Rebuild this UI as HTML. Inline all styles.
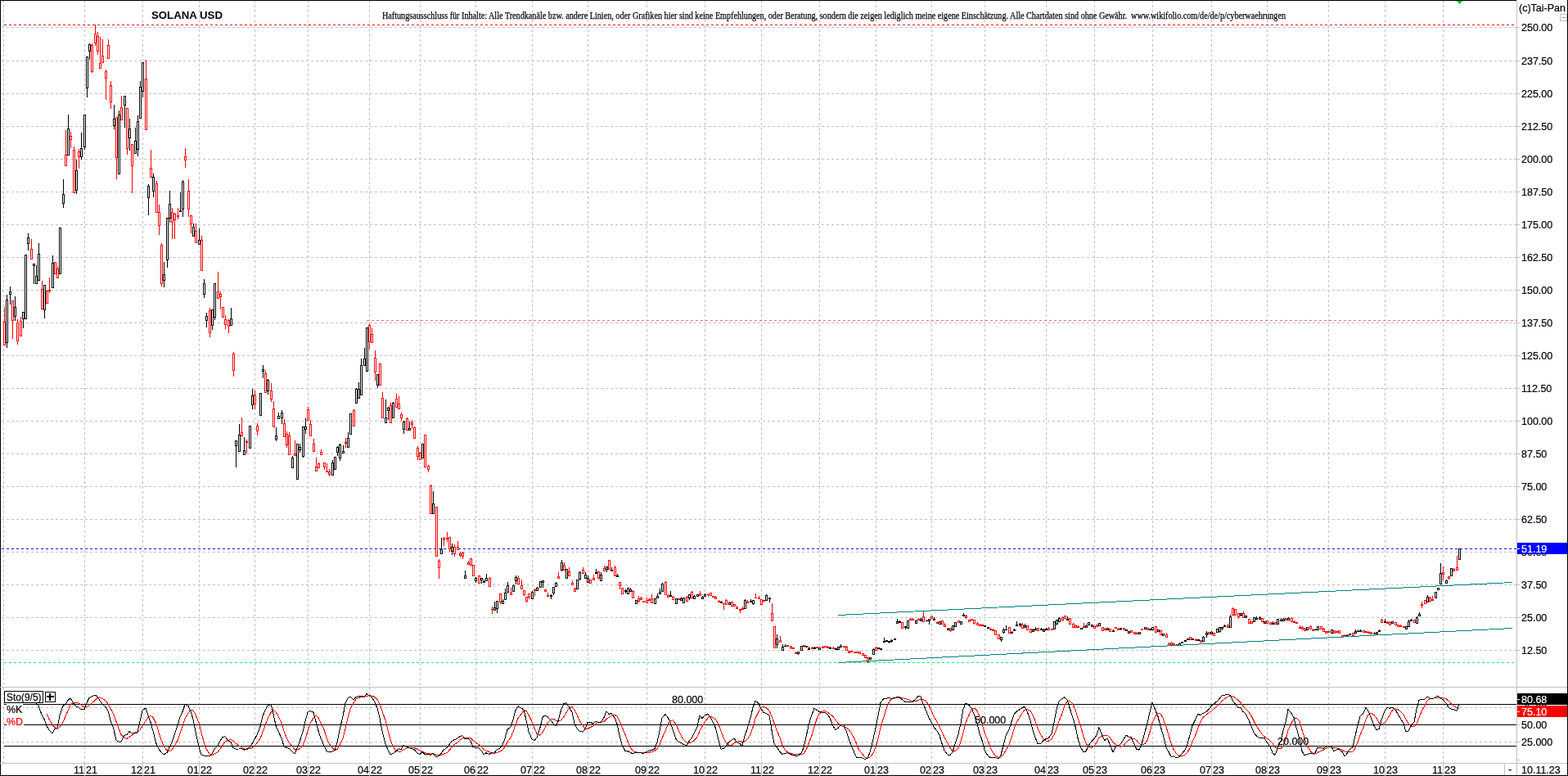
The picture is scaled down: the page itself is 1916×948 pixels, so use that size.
<!DOCTYPE html><html><head><meta charset="utf-8"><title>SOLANA USD</title><style>
html,body{margin:0;padding:0;background:#fff;}body{width:1916px;height:948px;overflow:hidden;position:relative;}
svg{position:absolute;left:0;top:0;display:block;}
text{font-family:"Liberation Sans",Arial,sans-serif;font-size:12.5px;fill:#000;stroke:#000;stroke-width:0.2px;}
.w{fill:#fff;stroke:#fff;}.r{fill:#f00;stroke:#f00;}
.s{font-family:"Liberation Serif","Times New Roman",serif;}
</style></head><body>
<svg width="1916" height="948" viewBox="0 0 1916 948">
<g shape-rendering="crispEdges">
<line x1="2" y1="33.5" x2="1853" y2="33.5" stroke="#c0c0c0" stroke-dasharray="3 3"/>
<line x1="2" y1="74.5" x2="1853" y2="74.5" stroke="#c0c0c0" stroke-dasharray="3 3"/>
<line x1="2" y1="114.5" x2="1853" y2="114.5" stroke="#c0c0c0" stroke-dasharray="3 3"/>
<line x1="2" y1="154.5" x2="1853" y2="154.5" stroke="#c0c0c0" stroke-dasharray="3 3"/>
<line x1="2" y1="194.5" x2="1853" y2="194.5" stroke="#c0c0c0" stroke-dasharray="3 3"/>
<line x1="2" y1="234.5" x2="1853" y2="234.5" stroke="#c0c0c0" stroke-dasharray="3 3"/>
<line x1="2" y1="274.5" x2="1853" y2="274.5" stroke="#c0c0c0" stroke-dasharray="3 3"/>
<line x1="2" y1="314.5" x2="1853" y2="314.5" stroke="#c0c0c0" stroke-dasharray="3 3"/>
<line x1="2" y1="354.5" x2="1853" y2="354.5" stroke="#c0c0c0" stroke-dasharray="3 3"/>
<line x1="2" y1="394.5" x2="1853" y2="394.5" stroke="#c0c0c0" stroke-dasharray="3 3"/>
<line x1="2" y1="434.5" x2="1853" y2="434.5" stroke="#c0c0c0" stroke-dasharray="3 3"/>
<line x1="2" y1="474.5" x2="1853" y2="474.5" stroke="#c0c0c0" stroke-dasharray="3 3"/>
<line x1="2" y1="514.5" x2="1853" y2="514.5" stroke="#c0c0c0" stroke-dasharray="3 3"/>
<line x1="2" y1="554.5" x2="1853" y2="554.5" stroke="#c0c0c0" stroke-dasharray="3 3"/>
<line x1="2" y1="594.5" x2="1853" y2="594.5" stroke="#c0c0c0" stroke-dasharray="3 3"/>
<line x1="2" y1="634.5" x2="1853" y2="634.5" stroke="#c0c0c0" stroke-dasharray="3 3"/>
<line x1="2" y1="674.5" x2="1853" y2="674.5" stroke="#c0c0c0" stroke-dasharray="3 3"/>
<line x1="2" y1="714.5" x2="1853" y2="714.5" stroke="#c0c0c0" stroke-dasharray="3 3"/>
<line x1="2" y1="754.5" x2="1853" y2="754.5" stroke="#c0c0c0" stroke-dasharray="3 3"/>
<line x1="2" y1="794.5" x2="1853" y2="794.5" stroke="#c0c0c0" stroke-dasharray="3 3"/>
<line x1="2" y1="864.5" x2="1853" y2="864.5" stroke="#c0c0c0" stroke-dasharray="3 3"/>
<line x1="2" y1="906.5" x2="1853" y2="906.5" stroke="#c0c0c0" stroke-dasharray="3 3"/>
<line x1="4.5" y1="0" x2="4.5" y2="932" stroke="#c0c0c0" stroke-dasharray="3 3"/>
<line x1="103.5" y1="0" x2="103.5" y2="932" stroke="#c0c0c0" stroke-dasharray="3 3"/>
<line x1="174.5" y1="0" x2="174.5" y2="932" stroke="#c0c0c0" stroke-dasharray="3 3"/>
<line x1="243.5" y1="0" x2="243.5" y2="932" stroke="#c0c0c0" stroke-dasharray="3 3"/>
<line x1="311.5" y1="0" x2="311.5" y2="932" stroke="#c0c0c0" stroke-dasharray="3 3"/>
<line x1="376.5" y1="0" x2="376.5" y2="932" stroke="#c0c0c0" stroke-dasharray="3 3"/>
<line x1="451.5" y1="0" x2="451.5" y2="932" stroke="#c0c0c0" stroke-dasharray="3 3"/>
<line x1="513.5" y1="0" x2="513.5" y2="932" stroke="#c0c0c0" stroke-dasharray="3 3"/>
<line x1="581.5" y1="0" x2="581.5" y2="932" stroke="#c0c0c0" stroke-dasharray="3 3"/>
<line x1="650.5" y1="0" x2="650.5" y2="932" stroke="#c0c0c0" stroke-dasharray="3 3"/>
<line x1="718.5" y1="0" x2="718.5" y2="932" stroke="#c0c0c0" stroke-dasharray="3 3"/>
<line x1="790.5" y1="0" x2="790.5" y2="932" stroke="#c0c0c0" stroke-dasharray="3 3"/>
<line x1="861.5" y1="0" x2="861.5" y2="932" stroke="#c0c0c0" stroke-dasharray="3 3"/>
<line x1="930.5" y1="0" x2="930.5" y2="932" stroke="#c0c0c0" stroke-dasharray="3 3"/>
<line x1="1001.5" y1="0" x2="1001.5" y2="932" stroke="#c0c0c0" stroke-dasharray="3 3"/>
<line x1="1070.5" y1="0" x2="1070.5" y2="932" stroke="#c0c0c0" stroke-dasharray="3 3"/>
<line x1="1138.5" y1="0" x2="1138.5" y2="932" stroke="#c0c0c0" stroke-dasharray="3 3"/>
<line x1="1203.5" y1="0" x2="1203.5" y2="932" stroke="#c0c0c0" stroke-dasharray="3 3"/>
<line x1="1278.5" y1="0" x2="1278.5" y2="932" stroke="#c0c0c0" stroke-dasharray="3 3"/>
<line x1="1337.5" y1="0" x2="1337.5" y2="932" stroke="#c0c0c0" stroke-dasharray="3 3"/>
<line x1="1408.5" y1="0" x2="1408.5" y2="932" stroke="#c0c0c0" stroke-dasharray="3 3"/>
<line x1="1480.5" y1="0" x2="1480.5" y2="932" stroke="#c0c0c0" stroke-dasharray="3 3"/>
<line x1="1548.5" y1="0" x2="1548.5" y2="932" stroke="#c0c0c0" stroke-dasharray="3 3"/>
<line x1="1623.5" y1="0" x2="1623.5" y2="932" stroke="#c0c0c0" stroke-dasharray="3 3"/>
<line x1="1692.5" y1="0" x2="1692.5" y2="932" stroke="#c0c0c0" stroke-dasharray="3 3"/>
<line x1="1763.5" y1="0" x2="1763.5" y2="932" stroke="#c0c0c0" stroke-dasharray="3 3"/>
<line x1="5" y1="30.5" x2="1853" y2="30.5" stroke="#ff0000" stroke-dasharray="3 3"/>
<line x1="448" y1="391.5" x2="1853" y2="391.5" stroke="#ff7070" stroke-dasharray="3 3"/>
<line x1="2" y1="670.5" x2="1853" y2="670.5" stroke="#0000ff" stroke-dasharray="3 3"/>
<line x1="5" y1="809.5" x2="1853" y2="809.5" stroke="#00ee77" stroke-dasharray="3 3"/>
<rect x="5" y="375" width="1" height="18" fill="#ff0000"/>
<rect x="4" y="393" width="3" height="29" fill="#ff0000"/>
<rect x="5" y="394" width="1" height="27" fill="#fff"/>
<rect x="8" y="360" width="1" height="6" fill="#000000"/>
<rect x="8" y="419" width="1" height="6" fill="#000000"/>
<rect x="7" y="366" width="3" height="53" fill="#000000"/>
<rect x="8" y="367" width="1" height="51" fill="#fff"/>
<rect x="12" y="350" width="1" height="6" fill="#000000"/>
<rect x="12" y="360" width="1" height="12" fill="#000000"/>
<rect x="11" y="356" width="3" height="4" fill="#000000"/>
<rect x="12" y="357" width="1" height="2" fill="#fff"/>
<rect x="15" y="392" width="1" height="22" fill="#ff0000"/>
<rect x="14" y="367" width="3" height="25" fill="#ff0000"/>
<rect x="15" y="368" width="1" height="23" fill="#fff"/>
<rect x="18" y="362" width="1" height="13" fill="#000000"/>
<rect x="18" y="387" width="1" height="5" fill="#000000"/>
<rect x="17" y="375" width="3" height="12" fill="#000000"/>
<rect x="18" y="376" width="1" height="10" fill="#fff"/>
<rect x="21" y="390" width="1" height="4" fill="#ff0000"/>
<rect x="21" y="417" width="1" height="4" fill="#ff0000"/>
<rect x="20" y="394" width="3" height="23" fill="#ff0000"/>
<rect x="21" y="395" width="1" height="21" fill="#fff"/>
<rect x="25" y="387" width="1" height="5" fill="#ff0000"/>
<rect x="24" y="392" width="3" height="19" fill="#ff0000"/>
<rect x="25" y="393" width="1" height="17" fill="#fff"/>
<rect x="28" y="390" width="1" height="11" fill="#000000"/>
<rect x="27" y="381" width="3" height="9" fill="#000000"/>
<rect x="28" y="382" width="1" height="7" fill="#fff"/>
<rect x="30" y="311" width="3" height="79" fill="#000000"/>
<rect x="31" y="312" width="1" height="77" fill="#fff"/>
<rect x="34" y="285" width="1" height="5" fill="#000000"/>
<rect x="34" y="298" width="1" height="8" fill="#000000"/>
<rect x="33" y="290" width="3" height="8" fill="#000000"/>
<rect x="34" y="291" width="1" height="6" fill="#fff"/>
<rect x="38" y="292" width="1" height="12" fill="#ff0000"/>
<rect x="37" y="304" width="3" height="13" fill="#ff0000"/>
<rect x="38" y="305" width="1" height="11" fill="#fff"/>
<rect x="41" y="325" width="1" height="22" fill="#000000"/>
<rect x="40" y="322" width="3" height="3" fill="#000000"/>
<rect x="41" y="323" width="1" height="1" fill="#fff"/>
<rect x="44" y="324" width="1" height="13" fill="#000000"/>
<rect x="43" y="337" width="3" height="10" fill="#000000"/>
<rect x="44" y="338" width="1" height="8" fill="#fff"/>
<rect x="47" y="297" width="1" height="13" fill="#000000"/>
<rect x="46" y="310" width="3" height="33" fill="#000000"/>
<rect x="47" y="311" width="1" height="31" fill="#fff"/>
<rect x="51" y="343" width="1" height="10" fill="#ff0000"/>
<rect x="50" y="353" width="3" height="25" fill="#ff0000"/>
<rect x="51" y="354" width="1" height="23" fill="#fff"/>
<rect x="54" y="379" width="1" height="10" fill="#000000"/>
<rect x="53" y="348" width="3" height="31" fill="#000000"/>
<rect x="54" y="349" width="1" height="29" fill="#fff"/>
<rect x="56" y="355" width="3" height="16" fill="#ff0000"/>
<rect x="57" y="356" width="1" height="14" fill="#fff"/>
<rect x="60" y="339" width="1" height="15" fill="#ff0000"/>
<rect x="60" y="356" width="1" height="2" fill="#ff0000"/>
<rect x="59" y="354" width="3" height="2" fill="#ff0000"/>
<rect x="64" y="312" width="1" height="9" fill="#000000"/>
<rect x="63" y="321" width="3" height="31" fill="#000000"/>
<rect x="64" y="322" width="1" height="29" fill="#fff"/>
<rect x="66" y="320" width="3" height="15" fill="#ff0000"/>
<rect x="67" y="321" width="1" height="13" fill="#fff"/>
<rect x="70" y="325" width="1" height="3" fill="#ff0000"/>
<rect x="69" y="328" width="3" height="12" fill="#ff0000"/>
<rect x="70" y="329" width="1" height="10" fill="#fff"/>
<rect x="72" y="278" width="3" height="57" fill="#000000"/>
<rect x="73" y="279" width="1" height="55" fill="#fff"/>
<rect x="77" y="219" width="1" height="18" fill="#000000"/>
<rect x="77" y="249" width="1" height="5" fill="#000000"/>
<rect x="76" y="237" width="3" height="12" fill="#000000"/>
<rect x="77" y="238" width="1" height="10" fill="#fff"/>
<rect x="80" y="159" width="1" height="30" fill="#ff0000"/>
<rect x="79" y="189" width="3" height="14" fill="#ff0000"/>
<rect x="80" y="190" width="1" height="12" fill="#fff"/>
<rect x="83" y="140" width="1" height="17" fill="#000000"/>
<rect x="82" y="157" width="3" height="33" fill="#000000"/>
<rect x="83" y="158" width="1" height="31" fill="#fff"/>
<rect x="86" y="161" width="1" height="5" fill="#ff0000"/>
<rect x="86" y="171" width="1" height="10" fill="#ff0000"/>
<rect x="85" y="166" width="3" height="5" fill="#ff0000"/>
<rect x="86" y="167" width="1" height="3" fill="#fff"/>
<rect x="90" y="179" width="1" height="4" fill="#ff0000"/>
<rect x="89" y="183" width="3" height="53" fill="#ff0000"/>
<rect x="90" y="184" width="1" height="51" fill="#fff"/>
<rect x="93" y="195" width="1" height="13" fill="#000000"/>
<rect x="93" y="233" width="1" height="4" fill="#000000"/>
<rect x="92" y="208" width="3" height="25" fill="#000000"/>
<rect x="93" y="209" width="1" height="23" fill="#fff"/>
<rect x="96" y="182" width="1" height="3" fill="#ff0000"/>
<rect x="96" y="192" width="1" height="14" fill="#ff0000"/>
<rect x="95" y="185" width="3" height="7" fill="#ff0000"/>
<rect x="96" y="186" width="1" height="5" fill="#fff"/>
<rect x="99" y="162" width="1" height="19" fill="#000000"/>
<rect x="99" y="192" width="1" height="3" fill="#000000"/>
<rect x="98" y="181" width="3" height="11" fill="#000000"/>
<rect x="99" y="182" width="1" height="9" fill="#fff"/>
<rect x="103" y="180" width="1" height="3" fill="#000000"/>
<rect x="102" y="140" width="3" height="40" fill="#000000"/>
<rect x="103" y="141" width="1" height="38" fill="#fff"/>
<rect x="106" y="108" width="1" height="11" fill="#000000"/>
<rect x="105" y="69" width="3" height="39" fill="#000000"/>
<rect x="106" y="70" width="1" height="37" fill="#fff"/>
<rect x="109" y="53" width="1" height="1" fill="#000000"/>
<rect x="109" y="63" width="1" height="10" fill="#000000"/>
<rect x="108" y="54" width="3" height="9" fill="#000000"/>
<rect x="109" y="55" width="1" height="7" fill="#fff"/>
<rect x="112" y="53" width="1" height="2" fill="#ff0000"/>
<rect x="112" y="88" width="1" height="1" fill="#ff0000"/>
<rect x="111" y="55" width="3" height="33" fill="#ff0000"/>
<rect x="112" y="56" width="1" height="31" fill="#fff"/>
<rect x="116" y="30" width="1" height="11" fill="#ff0000"/>
<rect x="116" y="53" width="1" height="3" fill="#ff0000"/>
<rect x="115" y="41" width="3" height="12" fill="#ff0000"/>
<rect x="116" y="42" width="1" height="10" fill="#fff"/>
<rect x="119" y="39" width="1" height="5" fill="#ff0000"/>
<rect x="119" y="63" width="1" height="4" fill="#ff0000"/>
<rect x="118" y="44" width="3" height="19" fill="#ff0000"/>
<rect x="119" y="45" width="1" height="17" fill="#fff"/>
<rect x="122" y="45" width="1" height="32" fill="#ff0000"/>
<rect x="121" y="77" width="3" height="7" fill="#ff0000"/>
<rect x="122" y="78" width="1" height="5" fill="#fff"/>
<rect x="125" y="48" width="1" height="20" fill="#ff0000"/>
<rect x="124" y="68" width="3" height="9" fill="#ff0000"/>
<rect x="125" y="69" width="1" height="7" fill="#fff"/>
<rect x="129" y="85" width="1" height="2" fill="#ff0000"/>
<rect x="129" y="96" width="1" height="26" fill="#ff0000"/>
<rect x="128" y="87" width="3" height="9" fill="#ff0000"/>
<rect x="129" y="88" width="1" height="7" fill="#fff"/>
<rect x="132" y="48" width="1" height="7" fill="#ff0000"/>
<rect x="131" y="55" width="3" height="17" fill="#ff0000"/>
<rect x="132" y="56" width="1" height="15" fill="#fff"/>
<rect x="135" y="99" width="1" height="5" fill="#ff0000"/>
<rect x="135" y="125" width="1" height="8" fill="#ff0000"/>
<rect x="134" y="104" width="3" height="21" fill="#ff0000"/>
<rect x="135" y="105" width="1" height="19" fill="#fff"/>
<rect x="139" y="128" width="1" height="17" fill="#000000"/>
<rect x="139" y="154" width="1" height="4" fill="#000000"/>
<rect x="138" y="145" width="3" height="9" fill="#000000"/>
<rect x="139" y="146" width="1" height="7" fill="#fff"/>
<rect x="142" y="193" width="1" height="26" fill="#ff0000"/>
<rect x="141" y="143" width="3" height="50" fill="#ff0000"/>
<rect x="142" y="144" width="1" height="48" fill="#fff"/>
<rect x="145" y="135" width="1" height="5" fill="#000000"/>
<rect x="144" y="140" width="3" height="73" fill="#000000"/>
<rect x="145" y="141" width="1" height="71" fill="#fff"/>
<rect x="148" y="117" width="1" height="14" fill="#ff0000"/>
<rect x="147" y="131" width="3" height="16" fill="#ff0000"/>
<rect x="148" y="132" width="1" height="14" fill="#fff"/>
<rect x="152" y="129" width="1" height="27" fill="#000000"/>
<rect x="151" y="117" width="3" height="12" fill="#000000"/>
<rect x="152" y="118" width="1" height="10" fill="#fff"/>
<rect x="155" y="182" width="1" height="7" fill="#ff0000"/>
<rect x="154" y="132" width="3" height="50" fill="#ff0000"/>
<rect x="155" y="133" width="1" height="48" fill="#fff"/>
<rect x="158" y="145" width="1" height="12" fill="#000000"/>
<rect x="158" y="169" width="1" height="15" fill="#000000"/>
<rect x="157" y="157" width="3" height="12" fill="#000000"/>
<rect x="158" y="158" width="1" height="10" fill="#fff"/>
<rect x="161" y="203" width="1" height="33" fill="#ff0000"/>
<rect x="160" y="176" width="3" height="27" fill="#ff0000"/>
<rect x="161" y="177" width="1" height="25" fill="#fff"/>
<rect x="165" y="156" width="1" height="16" fill="#000000"/>
<rect x="164" y="172" width="3" height="16" fill="#000000"/>
<rect x="165" y="173" width="1" height="14" fill="#fff"/>
<rect x="168" y="141" width="1" height="7" fill="#000000"/>
<rect x="168" y="183" width="1" height="8" fill="#000000"/>
<rect x="167" y="148" width="3" height="35" fill="#000000"/>
<rect x="168" y="149" width="1" height="33" fill="#fff"/>
<rect x="171" y="99" width="1" height="7" fill="#000000"/>
<rect x="170" y="106" width="3" height="39" fill="#000000"/>
<rect x="171" y="107" width="1" height="37" fill="#fff"/>
<rect x="174" y="112" width="1" height="7" fill="#000000"/>
<rect x="173" y="76" width="3" height="36" fill="#000000"/>
<rect x="174" y="77" width="1" height="34" fill="#fff"/>
<rect x="178" y="73" width="1" height="23" fill="#ff0000"/>
<rect x="177" y="96" width="3" height="63" fill="#ff0000"/>
<rect x="178" y="97" width="1" height="61" fill="#fff"/>
<rect x="181" y="225" width="1" height="2" fill="#000000"/>
<rect x="181" y="242" width="1" height="21" fill="#000000"/>
<rect x="180" y="227" width="3" height="15" fill="#000000"/>
<rect x="181" y="228" width="1" height="13" fill="#fff"/>
<rect x="184" y="183" width="1" height="22" fill="#ff0000"/>
<rect x="183" y="205" width="3" height="12" fill="#ff0000"/>
<rect x="184" y="206" width="1" height="10" fill="#fff"/>
<rect x="187" y="212" width="1" height="4" fill="#000000"/>
<rect x="187" y="234" width="1" height="7" fill="#000000"/>
<rect x="186" y="216" width="3" height="18" fill="#000000"/>
<rect x="187" y="217" width="1" height="16" fill="#fff"/>
<rect x="191" y="221" width="1" height="3" fill="#ff0000"/>
<rect x="190" y="224" width="3" height="36" fill="#ff0000"/>
<rect x="191" y="225" width="1" height="34" fill="#fff"/>
<rect x="194" y="250" width="1" height="9" fill="#ff0000"/>
<rect x="194" y="276" width="1" height="11" fill="#ff0000"/>
<rect x="193" y="259" width="3" height="17" fill="#ff0000"/>
<rect x="194" y="260" width="1" height="15" fill="#fff"/>
<rect x="197" y="297" width="1" height="2" fill="#ff0000"/>
<rect x="197" y="347" width="1" height="3" fill="#ff0000"/>
<rect x="196" y="299" width="3" height="48" fill="#ff0000"/>
<rect x="197" y="300" width="1" height="46" fill="#fff"/>
<rect x="200" y="320" width="1" height="15" fill="#000000"/>
<rect x="200" y="343" width="1" height="8" fill="#000000"/>
<rect x="199" y="335" width="3" height="8" fill="#000000"/>
<rect x="200" y="336" width="1" height="6" fill="#fff"/>
<rect x="204" y="318" width="1" height="9" fill="#000000"/>
<rect x="203" y="266" width="3" height="52" fill="#000000"/>
<rect x="204" y="267" width="1" height="50" fill="#fff"/>
<rect x="207" y="233" width="1" height="16" fill="#000000"/>
<rect x="207" y="267" width="1" height="5" fill="#000000"/>
<rect x="206" y="249" width="3" height="18" fill="#000000"/>
<rect x="207" y="250" width="1" height="16" fill="#fff"/>
<rect x="210" y="254" width="1" height="5" fill="#ff0000"/>
<rect x="210" y="272" width="1" height="20" fill="#ff0000"/>
<rect x="209" y="259" width="3" height="13" fill="#ff0000"/>
<rect x="210" y="260" width="1" height="11" fill="#fff"/>
<rect x="213" y="260" width="1" height="1" fill="#ff0000"/>
<rect x="213" y="269" width="1" height="23" fill="#ff0000"/>
<rect x="212" y="261" width="3" height="8" fill="#ff0000"/>
<rect x="213" y="262" width="1" height="6" fill="#fff"/>
<rect x="217" y="254" width="1" height="9" fill="#ff0000"/>
<rect x="217" y="265" width="1" height="3" fill="#ff0000"/>
<rect x="216" y="263" width="3" height="2" fill="#ff0000"/>
<rect x="220" y="235" width="1" height="22" fill="#000000"/>
<rect x="219" y="257" width="3" height="2" fill="#000000"/>
<rect x="223" y="220" width="1" height="2" fill="#000000"/>
<rect x="223" y="256" width="1" height="9" fill="#000000"/>
<rect x="222" y="222" width="3" height="34" fill="#000000"/>
<rect x="223" y="223" width="1" height="32" fill="#fff"/>
<rect x="226" y="181" width="1" height="10" fill="#ff0000"/>
<rect x="226" y="196" width="1" height="9" fill="#ff0000"/>
<rect x="225" y="191" width="3" height="5" fill="#ff0000"/>
<rect x="226" y="192" width="1" height="3" fill="#fff"/>
<rect x="230" y="219" width="1" height="14" fill="#ff0000"/>
<rect x="230" y="256" width="1" height="9" fill="#ff0000"/>
<rect x="229" y="233" width="3" height="23" fill="#ff0000"/>
<rect x="230" y="234" width="1" height="21" fill="#fff"/>
<rect x="233" y="274" width="1" height="11" fill="#ff0000"/>
<rect x="232" y="263" width="3" height="11" fill="#ff0000"/>
<rect x="233" y="264" width="1" height="9" fill="#fff"/>
<rect x="236" y="273" width="1" height="4" fill="#000000"/>
<rect x="235" y="277" width="3" height="12" fill="#000000"/>
<rect x="236" y="278" width="1" height="10" fill="#fff"/>
<rect x="239" y="273" width="1" height="9" fill="#ff0000"/>
<rect x="238" y="282" width="3" height="15" fill="#ff0000"/>
<rect x="239" y="283" width="1" height="13" fill="#fff"/>
<rect x="243" y="279" width="1" height="14" fill="#000000"/>
<rect x="242" y="293" width="3" height="6" fill="#000000"/>
<rect x="243" y="294" width="1" height="4" fill="#fff"/>
<rect x="246" y="288" width="1" height="5" fill="#ff0000"/>
<rect x="245" y="293" width="3" height="38" fill="#ff0000"/>
<rect x="246" y="294" width="1" height="36" fill="#fff"/>
<rect x="249" y="341" width="1" height="5" fill="#000000"/>
<rect x="249" y="360" width="1" height="4" fill="#000000"/>
<rect x="248" y="346" width="3" height="14" fill="#000000"/>
<rect x="249" y="347" width="1" height="12" fill="#fff"/>
<rect x="252" y="382" width="1" height="4" fill="#000000"/>
<rect x="252" y="392" width="1" height="8" fill="#000000"/>
<rect x="251" y="386" width="3" height="6" fill="#000000"/>
<rect x="252" y="387" width="1" height="4" fill="#fff"/>
<rect x="256" y="376" width="1" height="3" fill="#ff0000"/>
<rect x="256" y="407" width="1" height="5" fill="#ff0000"/>
<rect x="255" y="379" width="3" height="28" fill="#ff0000"/>
<rect x="256" y="380" width="1" height="26" fill="#fff"/>
<rect x="259" y="398" width="1" height="5" fill="#000000"/>
<rect x="258" y="378" width="3" height="20" fill="#000000"/>
<rect x="259" y="379" width="1" height="18" fill="#fff"/>
<rect x="262" y="388" width="1" height="3" fill="#000000"/>
<rect x="261" y="346" width="3" height="42" fill="#000000"/>
<rect x="262" y="347" width="1" height="40" fill="#fff"/>
<rect x="266" y="332" width="1" height="24" fill="#ff0000"/>
<rect x="265" y="356" width="3" height="9" fill="#ff0000"/>
<rect x="266" y="357" width="1" height="7" fill="#fff"/>
<rect x="269" y="356" width="1" height="3" fill="#ff0000"/>
<rect x="269" y="363" width="1" height="15" fill="#ff0000"/>
<rect x="268" y="359" width="3" height="4" fill="#ff0000"/>
<rect x="269" y="360" width="1" height="2" fill="#fff"/>
<rect x="271" y="375" width="3" height="13" fill="#ff0000"/>
<rect x="272" y="376" width="1" height="11" fill="#fff"/>
<rect x="275" y="385" width="1" height="5" fill="#ff0000"/>
<rect x="275" y="397" width="1" height="5" fill="#ff0000"/>
<rect x="274" y="390" width="3" height="7" fill="#ff0000"/>
<rect x="275" y="391" width="1" height="5" fill="#fff"/>
<rect x="279" y="390" width="1" height="1" fill="#ff0000"/>
<rect x="279" y="399" width="1" height="8" fill="#ff0000"/>
<rect x="278" y="391" width="3" height="8" fill="#ff0000"/>
<rect x="279" y="392" width="1" height="6" fill="#fff"/>
<rect x="282" y="376" width="1" height="13" fill="#000000"/>
<rect x="281" y="389" width="3" height="9" fill="#000000"/>
<rect x="282" y="390" width="1" height="7" fill="#fff"/>
<rect x="285" y="430" width="1" height="2" fill="#ff0000"/>
<rect x="285" y="453" width="1" height="7" fill="#ff0000"/>
<rect x="284" y="432" width="3" height="21" fill="#ff0000"/>
<rect x="285" y="433" width="1" height="19" fill="#fff"/>
<rect x="288" y="545" width="1" height="26" fill="#000000"/>
<rect x="287" y="538" width="3" height="7" fill="#000000"/>
<rect x="288" y="539" width="1" height="5" fill="#fff"/>
<rect x="292" y="518" width="1" height="13" fill="#000000"/>
<rect x="291" y="531" width="3" height="21" fill="#000000"/>
<rect x="292" y="532" width="1" height="19" fill="#fff"/>
<rect x="295" y="510" width="1" height="18" fill="#ff0000"/>
<rect x="294" y="528" width="3" height="5" fill="#ff0000"/>
<rect x="295" y="529" width="1" height="3" fill="#fff"/>
<rect x="298" y="534" width="1" height="16" fill="#000000"/>
<rect x="297" y="550" width="3" height="6" fill="#000000"/>
<rect x="298" y="551" width="1" height="4" fill="#fff"/>
<rect x="301" y="537" width="1" height="2" fill="#ff0000"/>
<rect x="301" y="541" width="1" height="13" fill="#ff0000"/>
<rect x="300" y="539" width="3" height="2" fill="#ff0000"/>
<rect x="304" y="520" width="3" height="28" fill="#000000"/>
<rect x="305" y="521" width="1" height="26" fill="#fff"/>
<rect x="308" y="475" width="1" height="8" fill="#000000"/>
<rect x="308" y="495" width="1" height="5" fill="#000000"/>
<rect x="307" y="483" width="3" height="12" fill="#000000"/>
<rect x="308" y="484" width="1" height="10" fill="#fff"/>
<rect x="311" y="477" width="1" height="5" fill="#ff0000"/>
<rect x="311" y="494" width="1" height="6" fill="#ff0000"/>
<rect x="310" y="482" width="3" height="12" fill="#ff0000"/>
<rect x="311" y="483" width="1" height="10" fill="#fff"/>
<rect x="314" y="517" width="1" height="3" fill="#ff0000"/>
<rect x="314" y="527" width="1" height="5" fill="#ff0000"/>
<rect x="313" y="520" width="3" height="7" fill="#ff0000"/>
<rect x="314" y="521" width="1" height="5" fill="#fff"/>
<rect x="317" y="480" width="3" height="28" fill="#000000"/>
<rect x="318" y="481" width="1" height="26" fill="#fff"/>
<rect x="321" y="446" width="1" height="5" fill="#000000"/>
<rect x="321" y="454" width="1" height="8" fill="#000000"/>
<rect x="320" y="451" width="3" height="3" fill="#000000"/>
<rect x="321" y="452" width="1" height="1" fill="#fff"/>
<rect x="324" y="453" width="1" height="3" fill="#ff0000"/>
<rect x="323" y="456" width="3" height="24" fill="#ff0000"/>
<rect x="324" y="457" width="1" height="22" fill="#fff"/>
<rect x="327" y="463" width="1" height="1" fill="#000000"/>
<rect x="327" y="478" width="1" height="4" fill="#000000"/>
<rect x="326" y="464" width="3" height="14" fill="#000000"/>
<rect x="327" y="465" width="1" height="12" fill="#fff"/>
<rect x="331" y="468" width="1" height="9" fill="#ff0000"/>
<rect x="331" y="488" width="1" height="3" fill="#ff0000"/>
<rect x="330" y="477" width="3" height="11" fill="#ff0000"/>
<rect x="331" y="478" width="1" height="9" fill="#fff"/>
<rect x="334" y="490" width="1" height="9" fill="#ff0000"/>
<rect x="333" y="499" width="3" height="23" fill="#ff0000"/>
<rect x="334" y="500" width="1" height="21" fill="#fff"/>
<rect x="337" y="522" width="1" height="10" fill="#000000"/>
<rect x="337" y="537" width="1" height="2" fill="#000000"/>
<rect x="336" y="532" width="3" height="5" fill="#000000"/>
<rect x="337" y="533" width="1" height="3" fill="#fff"/>
<rect x="340" y="504" width="1" height="4" fill="#000000"/>
<rect x="339" y="508" width="3" height="4" fill="#000000"/>
<rect x="340" y="509" width="1" height="2" fill="#fff"/>
<rect x="344" y="501" width="1" height="3" fill="#000000"/>
<rect x="344" y="511" width="1" height="7" fill="#000000"/>
<rect x="343" y="504" width="3" height="7" fill="#000000"/>
<rect x="344" y="505" width="1" height="5" fill="#fff"/>
<rect x="347" y="512" width="1" height="5" fill="#ff0000"/>
<rect x="346" y="517" width="3" height="17" fill="#ff0000"/>
<rect x="347" y="518" width="1" height="15" fill="#fff"/>
<rect x="350" y="527" width="1" height="3" fill="#ff0000"/>
<rect x="350" y="544" width="1" height="3" fill="#ff0000"/>
<rect x="349" y="530" width="3" height="14" fill="#ff0000"/>
<rect x="350" y="531" width="1" height="12" fill="#fff"/>
<rect x="353" y="528" width="1" height="4" fill="#ff0000"/>
<rect x="352" y="532" width="3" height="24" fill="#ff0000"/>
<rect x="353" y="533" width="1" height="22" fill="#fff"/>
<rect x="357" y="557" width="1" height="2" fill="#000000"/>
<rect x="356" y="559" width="3" height="13" fill="#000000"/>
<rect x="357" y="560" width="1" height="11" fill="#fff"/>
<rect x="360" y="538" width="1" height="16" fill="#ff0000"/>
<rect x="359" y="554" width="3" height="3" fill="#ff0000"/>
<rect x="360" y="555" width="1" height="1" fill="#fff"/>
<rect x="362" y="542" width="3" height="44" fill="#000000"/>
<rect x="363" y="543" width="1" height="42" fill="#fff"/>
<rect x="366" y="542" width="1" height="4" fill="#000000"/>
<rect x="366" y="550" width="1" height="3" fill="#000000"/>
<rect x="365" y="546" width="3" height="4" fill="#000000"/>
<rect x="366" y="547" width="1" height="2" fill="#fff"/>
<rect x="370" y="558" width="1" height="1" fill="#000000"/>
<rect x="369" y="521" width="3" height="37" fill="#000000"/>
<rect x="370" y="522" width="1" height="35" fill="#fff"/>
<rect x="373" y="511" width="1" height="10" fill="#000000"/>
<rect x="373" y="525" width="1" height="5" fill="#000000"/>
<rect x="372" y="521" width="3" height="4" fill="#000000"/>
<rect x="373" y="522" width="1" height="2" fill="#fff"/>
<rect x="376" y="497" width="1" height="3" fill="#ff0000"/>
<rect x="375" y="500" width="3" height="14" fill="#ff0000"/>
<rect x="376" y="501" width="1" height="12" fill="#fff"/>
<rect x="379" y="513" width="1" height="5" fill="#ff0000"/>
<rect x="378" y="518" width="3" height="15" fill="#ff0000"/>
<rect x="379" y="519" width="1" height="13" fill="#fff"/>
<rect x="383" y="536" width="1" height="6" fill="#ff0000"/>
<rect x="382" y="542" width="3" height="10" fill="#ff0000"/>
<rect x="383" y="543" width="1" height="8" fill="#fff"/>
<rect x="386" y="559" width="1" height="11" fill="#ff0000"/>
<rect x="385" y="570" width="3" height="6" fill="#ff0000"/>
<rect x="386" y="571" width="1" height="4" fill="#fff"/>
<rect x="389" y="565" width="1" height="1" fill="#ff0000"/>
<rect x="388" y="566" width="3" height="6" fill="#ff0000"/>
<rect x="389" y="567" width="1" height="4" fill="#fff"/>
<rect x="392" y="549" width="1" height="3" fill="#ff0000"/>
<rect x="391" y="552" width="3" height="4" fill="#ff0000"/>
<rect x="392" y="553" width="1" height="2" fill="#fff"/>
<rect x="396" y="571" width="1" height="3" fill="#ff0000"/>
<rect x="395" y="565" width="3" height="6" fill="#ff0000"/>
<rect x="396" y="566" width="1" height="4" fill="#fff"/>
<rect x="399" y="566" width="1" height="9" fill="#ff0000"/>
<rect x="398" y="575" width="3" height="2" fill="#ff0000"/>
<rect x="402" y="573" width="1" height="3" fill="#ff0000"/>
<rect x="402" y="580" width="1" height="2" fill="#ff0000"/>
<rect x="401" y="576" width="3" height="4" fill="#ff0000"/>
<rect x="402" y="577" width="1" height="2" fill="#fff"/>
<rect x="406" y="562" width="1" height="3" fill="#000000"/>
<rect x="405" y="565" width="3" height="16" fill="#000000"/>
<rect x="406" y="566" width="1" height="14" fill="#fff"/>
<rect x="408" y="558" width="3" height="16" fill="#000000"/>
<rect x="409" y="559" width="1" height="14" fill="#fff"/>
<rect x="412" y="545" width="1" height="1" fill="#000000"/>
<rect x="412" y="553" width="1" height="4" fill="#000000"/>
<rect x="411" y="546" width="3" height="7" fill="#000000"/>
<rect x="412" y="547" width="1" height="5" fill="#fff"/>
<rect x="415" y="542" width="1" height="1" fill="#000000"/>
<rect x="415" y="560" width="1" height="3" fill="#000000"/>
<rect x="414" y="543" width="3" height="17" fill="#000000"/>
<rect x="415" y="544" width="1" height="15" fill="#fff"/>
<rect x="419" y="544" width="1" height="7" fill="#000000"/>
<rect x="418" y="551" width="3" height="3" fill="#000000"/>
<rect x="419" y="552" width="1" height="1" fill="#fff"/>
<rect x="422" y="535" width="1" height="5" fill="#ff0000"/>
<rect x="422" y="542" width="1" height="5" fill="#ff0000"/>
<rect x="421" y="540" width="3" height="2" fill="#ff0000"/>
<rect x="425" y="528" width="1" height="7" fill="#000000"/>
<rect x="424" y="535" width="3" height="12" fill="#000000"/>
<rect x="425" y="536" width="1" height="10" fill="#fff"/>
<rect x="427" y="505" width="3" height="26" fill="#000000"/>
<rect x="428" y="506" width="1" height="24" fill="#fff"/>
<rect x="432" y="500" width="1" height="1" fill="#ff0000"/>
<rect x="431" y="501" width="3" height="20" fill="#ff0000"/>
<rect x="432" y="502" width="1" height="18" fill="#fff"/>
<rect x="435" y="474" width="1" height="1" fill="#000000"/>
<rect x="434" y="475" width="3" height="18" fill="#000000"/>
<rect x="435" y="476" width="1" height="16" fill="#fff"/>
<rect x="438" y="467" width="1" height="8" fill="#000000"/>
<rect x="437" y="475" width="3" height="12" fill="#000000"/>
<rect x="438" y="476" width="1" height="10" fill="#fff"/>
<rect x="441" y="438" width="1" height="8" fill="#000000"/>
<rect x="440" y="446" width="3" height="37" fill="#000000"/>
<rect x="441" y="447" width="1" height="35" fill="#fff"/>
<rect x="445" y="425" width="1" height="13" fill="#000000"/>
<rect x="444" y="438" width="3" height="9" fill="#000000"/>
<rect x="445" y="439" width="1" height="7" fill="#fff"/>
<rect x="447" y="400" width="3" height="54" fill="#000000"/>
<rect x="448" y="401" width="1" height="52" fill="#fff"/>
<rect x="451" y="395" width="1" height="2" fill="#ff0000"/>
<rect x="451" y="418" width="1" height="9" fill="#ff0000"/>
<rect x="450" y="397" width="3" height="21" fill="#ff0000"/>
<rect x="451" y="398" width="1" height="19" fill="#fff"/>
<rect x="454" y="401" width="1" height="7" fill="#ff0000"/>
<rect x="453" y="408" width="3" height="11" fill="#ff0000"/>
<rect x="454" y="409" width="1" height="9" fill="#fff"/>
<rect x="458" y="428" width="1" height="9" fill="#ff0000"/>
<rect x="458" y="455" width="1" height="10" fill="#ff0000"/>
<rect x="457" y="437" width="3" height="18" fill="#ff0000"/>
<rect x="458" y="438" width="1" height="16" fill="#fff"/>
<rect x="461" y="471" width="1" height="3" fill="#000000"/>
<rect x="460" y="457" width="3" height="14" fill="#000000"/>
<rect x="461" y="458" width="1" height="12" fill="#fff"/>
<rect x="463" y="444" width="3" height="27" fill="#ff0000"/>
<rect x="464" y="445" width="1" height="25" fill="#fff"/>
<rect x="467" y="479" width="1" height="7" fill="#ff0000"/>
<rect x="466" y="486" width="3" height="25" fill="#ff0000"/>
<rect x="467" y="487" width="1" height="23" fill="#fff"/>
<rect x="471" y="488" width="1" height="22" fill="#000000"/>
<rect x="470" y="510" width="3" height="7" fill="#000000"/>
<rect x="471" y="511" width="1" height="5" fill="#fff"/>
<rect x="474" y="497" width="1" height="1" fill="#000000"/>
<rect x="474" y="502" width="1" height="11" fill="#000000"/>
<rect x="473" y="498" width="3" height="4" fill="#000000"/>
<rect x="474" y="499" width="1" height="2" fill="#fff"/>
<rect x="477" y="492" width="1" height="3" fill="#ff0000"/>
<rect x="476" y="495" width="3" height="22" fill="#ff0000"/>
<rect x="477" y="496" width="1" height="20" fill="#fff"/>
<rect x="480" y="491" width="1" height="1" fill="#000000"/>
<rect x="479" y="492" width="3" height="19" fill="#000000"/>
<rect x="480" y="493" width="1" height="17" fill="#fff"/>
<rect x="484" y="481" width="1" height="6" fill="#ff0000"/>
<rect x="483" y="487" width="3" height="11" fill="#ff0000"/>
<rect x="484" y="488" width="1" height="9" fill="#fff"/>
<rect x="487" y="484" width="1" height="9" fill="#ff0000"/>
<rect x="486" y="493" width="3" height="7" fill="#ff0000"/>
<rect x="487" y="494" width="1" height="5" fill="#fff"/>
<rect x="490" y="504" width="1" height="2" fill="#ff0000"/>
<rect x="490" y="511" width="1" height="3" fill="#ff0000"/>
<rect x="489" y="506" width="3" height="5" fill="#ff0000"/>
<rect x="490" y="507" width="1" height="3" fill="#fff"/>
<rect x="493" y="514" width="1" height="1" fill="#000000"/>
<rect x="493" y="525" width="1" height="5" fill="#000000"/>
<rect x="492" y="515" width="3" height="10" fill="#000000"/>
<rect x="493" y="516" width="1" height="8" fill="#fff"/>
<rect x="497" y="510" width="1" height="1" fill="#ff0000"/>
<rect x="496" y="511" width="3" height="15" fill="#ff0000"/>
<rect x="497" y="512" width="1" height="13" fill="#fff"/>
<rect x="500" y="515" width="1" height="8" fill="#000000"/>
<rect x="499" y="523" width="3" height="3" fill="#000000"/>
<rect x="500" y="524" width="1" height="1" fill="#fff"/>
<rect x="503" y="513" width="1" height="3" fill="#ff0000"/>
<rect x="503" y="519" width="1" height="5" fill="#ff0000"/>
<rect x="502" y="516" width="3" height="3" fill="#ff0000"/>
<rect x="503" y="517" width="1" height="1" fill="#fff"/>
<rect x="506" y="521" width="1" height="1" fill="#ff0000"/>
<rect x="505" y="522" width="3" height="14" fill="#ff0000"/>
<rect x="506" y="523" width="1" height="12" fill="#fff"/>
<rect x="510" y="545" width="1" height="2" fill="#ff0000"/>
<rect x="510" y="558" width="1" height="4" fill="#ff0000"/>
<rect x="509" y="547" width="3" height="11" fill="#ff0000"/>
<rect x="510" y="548" width="1" height="9" fill="#fff"/>
<rect x="513" y="552" width="1" height="1" fill="#ff0000"/>
<rect x="512" y="553" width="3" height="9" fill="#ff0000"/>
<rect x="513" y="554" width="1" height="7" fill="#fff"/>
<rect x="515" y="542" width="3" height="18" fill="#000000"/>
<rect x="516" y="543" width="1" height="16" fill="#fff"/>
<rect x="518" y="531" width="3" height="40" fill="#ff0000"/>
<rect x="519" y="532" width="1" height="38" fill="#fff"/>
<rect x="523" y="568" width="1" height="1" fill="#ff0000"/>
<rect x="523" y="574" width="1" height="3" fill="#ff0000"/>
<rect x="522" y="569" width="3" height="5" fill="#ff0000"/>
<rect x="523" y="570" width="1" height="3" fill="#fff"/>
<rect x="526" y="592" width="1" height="1" fill="#ff0000"/>
<rect x="525" y="593" width="3" height="35" fill="#ff0000"/>
<rect x="526" y="594" width="1" height="33" fill="#fff"/>
<rect x="529" y="600" width="1" height="15" fill="#000000"/>
<rect x="528" y="615" width="3" height="13" fill="#000000"/>
<rect x="529" y="616" width="1" height="11" fill="#fff"/>
<rect x="532" y="619" width="3" height="61" fill="#ff0000"/>
<rect x="533" y="620" width="1" height="59" fill="#fff"/>
<rect x="536" y="683" width="1" height="2" fill="#ff0000"/>
<rect x="536" y="694" width="1" height="13" fill="#ff0000"/>
<rect x="535" y="685" width="3" height="9" fill="#ff0000"/>
<rect x="536" y="686" width="1" height="7" fill="#fff"/>
<rect x="539" y="657" width="1" height="14" fill="#000000"/>
<rect x="538" y="671" width="3" height="6" fill="#000000"/>
<rect x="539" y="672" width="1" height="4" fill="#fff"/>
<rect x="542" y="656" width="1" height="1" fill="#ff0000"/>
<rect x="542" y="660" width="1" height="7" fill="#ff0000"/>
<rect x="541" y="657" width="3" height="3" fill="#ff0000"/>
<rect x="542" y="658" width="1" height="1" fill="#fff"/>
<rect x="546" y="650" width="1" height="7" fill="#ff0000"/>
<rect x="546" y="659" width="1" height="3" fill="#ff0000"/>
<rect x="545" y="657" width="3" height="2" fill="#ff0000"/>
<rect x="549" y="671" width="1" height="3" fill="#ff0000"/>
<rect x="548" y="656" width="3" height="15" fill="#ff0000"/>
<rect x="549" y="657" width="1" height="13" fill="#fff"/>
<rect x="552" y="664" width="1" height="4" fill="#000000"/>
<rect x="552" y="674" width="1" height="4" fill="#000000"/>
<rect x="551" y="668" width="3" height="6" fill="#000000"/>
<rect x="552" y="669" width="1" height="4" fill="#fff"/>
<rect x="555" y="665" width="1" height="3" fill="#ff0000"/>
<rect x="555" y="677" width="1" height="3" fill="#ff0000"/>
<rect x="554" y="668" width="3" height="9" fill="#ff0000"/>
<rect x="555" y="669" width="1" height="7" fill="#fff"/>
<rect x="559" y="661" width="1" height="7" fill="#ff0000"/>
<rect x="558" y="668" width="3" height="4" fill="#ff0000"/>
<rect x="559" y="669" width="1" height="2" fill="#fff"/>
<rect x="562" y="674" width="1" height="2" fill="#ff0000"/>
<rect x="562" y="679" width="1" height="2" fill="#ff0000"/>
<rect x="561" y="676" width="3" height="3" fill="#ff0000"/>
<rect x="562" y="677" width="1" height="1" fill="#fff"/>
<rect x="565" y="674" width="1" height="1" fill="#ff0000"/>
<rect x="565" y="680" width="1" height="3" fill="#ff0000"/>
<rect x="564" y="675" width="3" height="5" fill="#ff0000"/>
<rect x="565" y="676" width="1" height="3" fill="#fff"/>
<rect x="568" y="697" width="1" height="6" fill="#000000"/>
<rect x="567" y="703" width="3" height="4" fill="#000000"/>
<rect x="568" y="704" width="1" height="2" fill="#fff"/>
<rect x="572" y="685" width="1" height="2" fill="#ff0000"/>
<rect x="571" y="687" width="3" height="3" fill="#ff0000"/>
<rect x="572" y="688" width="1" height="1" fill="#fff"/>
<rect x="574" y="682" width="3" height="9" fill="#ff0000"/>
<rect x="575" y="683" width="1" height="7" fill="#fff"/>
<rect x="577" y="690" width="3" height="14" fill="#ff0000"/>
<rect x="578" y="691" width="1" height="12" fill="#fff"/>
<rect x="581" y="705" width="1" height="1" fill="#000000"/>
<rect x="581" y="710" width="1" height="2" fill="#000000"/>
<rect x="580" y="706" width="3" height="4" fill="#000000"/>
<rect x="581" y="707" width="1" height="2" fill="#fff"/>
<rect x="584" y="703" width="3" height="10" fill="#ff0000"/>
<rect x="585" y="704" width="1" height="8" fill="#fff"/>
<rect x="588" y="709" width="1" height="4" fill="#000000"/>
<rect x="587" y="706" width="3" height="3" fill="#000000"/>
<rect x="588" y="707" width="1" height="1" fill="#fff"/>
<rect x="591" y="708" width="1" height="2" fill="#000000"/>
<rect x="590" y="710" width="3" height="2" fill="#000000"/>
<rect x="594" y="701" width="1" height="5" fill="#000000"/>
<rect x="593" y="706" width="3" height="4" fill="#000000"/>
<rect x="594" y="707" width="1" height="2" fill="#fff"/>
<rect x="598" y="705" width="1" height="1" fill="#ff0000"/>
<rect x="597" y="706" width="3" height="11" fill="#ff0000"/>
<rect x="598" y="707" width="1" height="9" fill="#fff"/>
<rect x="601" y="741" width="1" height="3" fill="#ff0000"/>
<rect x="601" y="745" width="1" height="5" fill="#ff0000"/>
<rect x="600" y="744" width="3" height="1" fill="#ff0000"/>
<rect x="604" y="735" width="1" height="7" fill="#000000"/>
<rect x="603" y="742" width="3" height="4" fill="#000000"/>
<rect x="604" y="743" width="1" height="2" fill="#fff"/>
<rect x="607" y="744" width="1" height="5" fill="#000000"/>
<rect x="606" y="734" width="3" height="10" fill="#000000"/>
<rect x="607" y="735" width="1" height="8" fill="#fff"/>
<rect x="611" y="736" width="1" height="2" fill="#ff0000"/>
<rect x="610" y="725" width="3" height="11" fill="#ff0000"/>
<rect x="611" y="726" width="1" height="9" fill="#fff"/>
<rect x="614" y="732" width="1" height="2" fill="#000000"/>
<rect x="613" y="734" width="3" height="4" fill="#000000"/>
<rect x="614" y="735" width="1" height="2" fill="#fff"/>
<rect x="617" y="719" width="1" height="5" fill="#000000"/>
<rect x="616" y="724" width="3" height="9" fill="#000000"/>
<rect x="617" y="725" width="1" height="7" fill="#fff"/>
<rect x="620" y="711" width="1" height="4" fill="#000000"/>
<rect x="619" y="715" width="3" height="9" fill="#000000"/>
<rect x="620" y="716" width="1" height="7" fill="#fff"/>
<rect x="624" y="718" width="1" height="6" fill="#ff0000"/>
<rect x="623" y="724" width="3" height="3" fill="#ff0000"/>
<rect x="624" y="725" width="1" height="1" fill="#fff"/>
<rect x="627" y="714" width="1" height="1" fill="#000000"/>
<rect x="626" y="715" width="3" height="8" fill="#000000"/>
<rect x="627" y="716" width="1" height="6" fill="#fff"/>
<rect x="630" y="703" width="1" height="2" fill="#000000"/>
<rect x="630" y="710" width="1" height="4" fill="#000000"/>
<rect x="629" y="705" width="3" height="5" fill="#000000"/>
<rect x="630" y="706" width="1" height="3" fill="#fff"/>
<rect x="633" y="703" width="1" height="3" fill="#ff0000"/>
<rect x="632" y="706" width="3" height="8" fill="#ff0000"/>
<rect x="633" y="707" width="1" height="6" fill="#fff"/>
<rect x="637" y="708" width="1" height="7" fill="#ff0000"/>
<rect x="636" y="715" width="3" height="5" fill="#ff0000"/>
<rect x="637" y="716" width="1" height="3" fill="#fff"/>
<rect x="640" y="727" width="1" height="1" fill="#ff0000"/>
<rect x="639" y="721" width="3" height="6" fill="#ff0000"/>
<rect x="640" y="722" width="1" height="4" fill="#fff"/>
<rect x="643" y="735" width="1" height="1" fill="#ff0000"/>
<rect x="642" y="729" width="3" height="6" fill="#ff0000"/>
<rect x="643" y="730" width="1" height="4" fill="#fff"/>
<rect x="646" y="730" width="1" height="2" fill="#ff0000"/>
<rect x="645" y="725" width="3" height="5" fill="#ff0000"/>
<rect x="646" y="726" width="1" height="3" fill="#fff"/>
<rect x="650" y="722" width="1" height="1" fill="#000000"/>
<rect x="649" y="723" width="3" height="9" fill="#000000"/>
<rect x="650" y="724" width="1" height="7" fill="#fff"/>
<rect x="653" y="719" width="1" height="1" fill="#ff0000"/>
<rect x="653" y="722" width="1" height="6" fill="#ff0000"/>
<rect x="652" y="720" width="3" height="2" fill="#ff0000"/>
<rect x="656" y="717" width="1" height="1" fill="#000000"/>
<rect x="655" y="718" width="3" height="4" fill="#000000"/>
<rect x="656" y="719" width="1" height="2" fill="#fff"/>
<rect x="659" y="710" width="3" height="8" fill="#000000"/>
<rect x="660" y="711" width="1" height="6" fill="#fff"/>
<rect x="663" y="712" width="1" height="6" fill="#000000"/>
<rect x="662" y="709" width="3" height="3" fill="#000000"/>
<rect x="663" y="710" width="1" height="1" fill="#fff"/>
<rect x="665" y="720" width="3" height="3" fill="#ff0000"/>
<rect x="666" y="721" width="1" height="1" fill="#fff"/>
<rect x="669" y="724" width="1" height="3" fill="#ff0000"/>
<rect x="668" y="727" width="3" height="2" fill="#ff0000"/>
<rect x="673" y="726" width="1" height="1" fill="#000000"/>
<rect x="673" y="729" width="1" height="3" fill="#000000"/>
<rect x="672" y="727" width="3" height="2" fill="#000000"/>
<rect x="676" y="725" width="1" height="2" fill="#000000"/>
<rect x="675" y="717" width="3" height="8" fill="#000000"/>
<rect x="676" y="718" width="1" height="6" fill="#fff"/>
<rect x="679" y="711" width="1" height="1" fill="#000000"/>
<rect x="678" y="712" width="3" height="5" fill="#000000"/>
<rect x="679" y="713" width="1" height="3" fill="#fff"/>
<rect x="682" y="699" width="1" height="5" fill="#ff0000"/>
<rect x="681" y="704" width="3" height="3" fill="#ff0000"/>
<rect x="682" y="705" width="1" height="1" fill="#fff"/>
<rect x="686" y="684" width="1" height="3" fill="#000000"/>
<rect x="686" y="697" width="1" height="1" fill="#000000"/>
<rect x="685" y="687" width="3" height="10" fill="#000000"/>
<rect x="686" y="688" width="1" height="8" fill="#fff"/>
<rect x="689" y="687" width="1" height="3" fill="#ff0000"/>
<rect x="688" y="690" width="3" height="7" fill="#ff0000"/>
<rect x="689" y="691" width="1" height="5" fill="#fff"/>
<rect x="691" y="695" width="3" height="12" fill="#000000"/>
<rect x="692" y="696" width="1" height="10" fill="#fff"/>
<rect x="695" y="693" width="1" height="5" fill="#ff0000"/>
<rect x="694" y="698" width="3" height="6" fill="#ff0000"/>
<rect x="695" y="699" width="1" height="4" fill="#fff"/>
<rect x="699" y="709" width="1" height="3" fill="#ff0000"/>
<rect x="698" y="712" width="3" height="3" fill="#ff0000"/>
<rect x="699" y="713" width="1" height="1" fill="#fff"/>
<rect x="702" y="718" width="1" height="1" fill="#ff0000"/>
<rect x="701" y="719" width="3" height="4" fill="#ff0000"/>
<rect x="702" y="720" width="1" height="2" fill="#fff"/>
<rect x="704" y="708" width="3" height="12" fill="#000000"/>
<rect x="705" y="709" width="1" height="10" fill="#fff"/>
<rect x="708" y="698" width="1" height="1" fill="#000000"/>
<rect x="708" y="708" width="1" height="1" fill="#000000"/>
<rect x="707" y="699" width="3" height="9" fill="#000000"/>
<rect x="708" y="700" width="1" height="7" fill="#fff"/>
<rect x="712" y="693" width="1" height="3" fill="#ff0000"/>
<rect x="711" y="696" width="3" height="5" fill="#ff0000"/>
<rect x="712" y="697" width="1" height="3" fill="#fff"/>
<rect x="715" y="699" width="1" height="3" fill="#000000"/>
<rect x="714" y="702" width="3" height="5" fill="#000000"/>
<rect x="715" y="703" width="1" height="3" fill="#fff"/>
<rect x="718" y="703" width="1" height="3" fill="#000000"/>
<rect x="717" y="706" width="3" height="6" fill="#000000"/>
<rect x="718" y="707" width="1" height="4" fill="#fff"/>
<rect x="720" y="708" width="3" height="5" fill="#ff0000"/>
<rect x="721" y="709" width="1" height="3" fill="#fff"/>
<rect x="725" y="702" width="1" height="4" fill="#ff0000"/>
<rect x="724" y="706" width="3" height="3" fill="#ff0000"/>
<rect x="725" y="707" width="1" height="1" fill="#fff"/>
<rect x="728" y="695" width="1" height="4" fill="#000000"/>
<rect x="727" y="699" width="3" height="2" fill="#000000"/>
<rect x="730" y="698" width="3" height="9" fill="#ff0000"/>
<rect x="731" y="699" width="1" height="7" fill="#fff"/>
<rect x="734" y="699" width="1" height="3" fill="#000000"/>
<rect x="733" y="702" width="3" height="8" fill="#000000"/>
<rect x="734" y="703" width="1" height="6" fill="#fff"/>
<rect x="738" y="691" width="1" height="3" fill="#ff0000"/>
<rect x="737" y="694" width="3" height="4" fill="#ff0000"/>
<rect x="738" y="695" width="1" height="2" fill="#fff"/>
<rect x="741" y="696" width="1" height="3" fill="#000000"/>
<rect x="740" y="692" width="3" height="4" fill="#000000"/>
<rect x="741" y="693" width="1" height="2" fill="#fff"/>
<rect x="743" y="684" width="3" height="12" fill="#ff0000"/>
<rect x="744" y="685" width="1" height="10" fill="#fff"/>
<rect x="747" y="693" width="1" height="3" fill="#000000"/>
<rect x="746" y="696" width="3" height="2" fill="#000000"/>
<rect x="751" y="691" width="1" height="2" fill="#ff0000"/>
<rect x="750" y="693" width="3" height="11" fill="#ff0000"/>
<rect x="751" y="694" width="1" height="9" fill="#fff"/>
<rect x="754" y="701" width="1" height="2" fill="#000000"/>
<rect x="753" y="703" width="3" height="2" fill="#000000"/>
<rect x="757" y="716" width="1" height="4" fill="#ff0000"/>
<rect x="756" y="711" width="3" height="5" fill="#ff0000"/>
<rect x="757" y="712" width="1" height="3" fill="#fff"/>
<rect x="759" y="718" width="3" height="8" fill="#ff0000"/>
<rect x="760" y="719" width="1" height="6" fill="#fff"/>
<rect x="764" y="720" width="1" height="1" fill="#000000"/>
<rect x="764" y="723" width="1" height="2" fill="#000000"/>
<rect x="763" y="721" width="3" height="2" fill="#000000"/>
<rect x="766" y="718" width="3" height="8" fill="#000000"/>
<rect x="767" y="719" width="1" height="6" fill="#fff"/>
<rect x="770" y="718" width="1" height="2" fill="#000000"/>
<rect x="769" y="720" width="3" height="3" fill="#000000"/>
<rect x="770" y="721" width="1" height="1" fill="#fff"/>
<rect x="773" y="721" width="1" height="1" fill="#ff0000"/>
<rect x="772" y="722" width="3" height="9" fill="#ff0000"/>
<rect x="773" y="723" width="1" height="7" fill="#fff"/>
<rect x="776" y="733" width="3" height="5" fill="#000000"/>
<rect x="777" y="734" width="1" height="3" fill="#fff"/>
<rect x="780" y="728" width="1" height="3" fill="#ff0000"/>
<rect x="780" y="735" width="1" height="1" fill="#ff0000"/>
<rect x="779" y="731" width="3" height="4" fill="#ff0000"/>
<rect x="780" y="732" width="1" height="2" fill="#fff"/>
<rect x="783" y="729" width="1" height="1" fill="#ff0000"/>
<rect x="782" y="730" width="3" height="3" fill="#ff0000"/>
<rect x="783" y="731" width="1" height="1" fill="#fff"/>
<rect x="785" y="734" width="3" height="2" fill="#ff0000"/>
<rect x="790" y="730" width="1" height="3" fill="#ff0000"/>
<rect x="789" y="733" width="3" height="4" fill="#ff0000"/>
<rect x="790" y="734" width="1" height="2" fill="#fff"/>
<rect x="793" y="731" width="1" height="1" fill="#ff0000"/>
<rect x="792" y="732" width="3" height="2" fill="#ff0000"/>
<rect x="796" y="726" width="1" height="5" fill="#ff0000"/>
<rect x="795" y="731" width="3" height="6" fill="#ff0000"/>
<rect x="796" y="732" width="1" height="4" fill="#fff"/>
<rect x="799" y="731" width="3" height="7" fill="#000000"/>
<rect x="800" y="732" width="1" height="5" fill="#fff"/>
<rect x="803" y="725" width="1" height="3" fill="#000000"/>
<rect x="802" y="728" width="3" height="3" fill="#000000"/>
<rect x="803" y="729" width="1" height="1" fill="#fff"/>
<rect x="806" y="719" width="1" height="4" fill="#000000"/>
<rect x="805" y="723" width="3" height="3" fill="#000000"/>
<rect x="806" y="724" width="1" height="1" fill="#fff"/>
<rect x="809" y="712" width="1" height="1" fill="#000000"/>
<rect x="808" y="713" width="3" height="10" fill="#000000"/>
<rect x="809" y="714" width="1" height="8" fill="#fff"/>
<rect x="813" y="710" width="1" height="1" fill="#ff0000"/>
<rect x="812" y="711" width="3" height="16" fill="#ff0000"/>
<rect x="813" y="712" width="1" height="14" fill="#fff"/>
<rect x="816" y="726" width="1" height="1" fill="#ff0000"/>
<rect x="815" y="727" width="3" height="3" fill="#ff0000"/>
<rect x="816" y="728" width="1" height="1" fill="#fff"/>
<rect x="819" y="722" width="1" height="5" fill="#000000"/>
<rect x="818" y="727" width="3" height="2" fill="#000000"/>
<rect x="822" y="728" width="1" height="1" fill="#ff0000"/>
<rect x="821" y="729" width="3" height="4" fill="#ff0000"/>
<rect x="822" y="730" width="1" height="2" fill="#fff"/>
<rect x="825" y="731" width="3" height="7" fill="#000000"/>
<rect x="826" y="732" width="1" height="5" fill="#fff"/>
<rect x="828" y="731" width="3" height="2" fill="#ff0000"/>
<rect x="832" y="729" width="1" height="2" fill="#000000"/>
<rect x="831" y="731" width="3" height="3" fill="#000000"/>
<rect x="832" y="732" width="1" height="1" fill="#fff"/>
<rect x="834" y="730" width="3" height="7" fill="#000000"/>
<rect x="835" y="731" width="1" height="5" fill="#fff"/>
<rect x="839" y="728" width="1" height="1" fill="#ff0000"/>
<rect x="838" y="729" width="3" height="6" fill="#ff0000"/>
<rect x="839" y="730" width="1" height="4" fill="#fff"/>
<rect x="842" y="731" width="1" height="2" fill="#000000"/>
<rect x="841" y="726" width="3" height="5" fill="#000000"/>
<rect x="842" y="727" width="1" height="3" fill="#fff"/>
<rect x="845" y="722" width="1" height="1" fill="#ff0000"/>
<rect x="844" y="723" width="3" height="8" fill="#ff0000"/>
<rect x="845" y="724" width="1" height="6" fill="#fff"/>
<rect x="848" y="727" width="1" height="1" fill="#000000"/>
<rect x="847" y="728" width="3" height="4" fill="#000000"/>
<rect x="848" y="729" width="1" height="2" fill="#fff"/>
<rect x="851" y="726" width="3" height="3" fill="#000000"/>
<rect x="852" y="727" width="1" height="1" fill="#fff"/>
<rect x="855" y="722" width="1" height="3" fill="#ff0000"/>
<rect x="854" y="725" width="3" height="3" fill="#ff0000"/>
<rect x="855" y="726" width="1" height="1" fill="#fff"/>
<rect x="858" y="728" width="1" height="1" fill="#000000"/>
<rect x="857" y="729" width="3" height="3" fill="#000000"/>
<rect x="858" y="730" width="1" height="1" fill="#fff"/>
<rect x="861" y="725" width="1" height="1" fill="#000000"/>
<rect x="860" y="726" width="3" height="3" fill="#000000"/>
<rect x="861" y="727" width="1" height="1" fill="#fff"/>
<rect x="865" y="725" width="1" height="1" fill="#ff0000"/>
<rect x="865" y="727" width="1" height="2" fill="#ff0000"/>
<rect x="864" y="726" width="3" height="1" fill="#ff0000"/>
<rect x="867" y="724" width="3" height="4" fill="#ff0000"/>
<rect x="868" y="725" width="1" height="2" fill="#fff"/>
<rect x="870" y="728" width="3" height="2" fill="#ff0000"/>
<rect x="874" y="728" width="1" height="1" fill="#ff0000"/>
<rect x="873" y="729" width="3" height="3" fill="#ff0000"/>
<rect x="874" y="730" width="1" height="1" fill="#fff"/>
<rect x="878" y="733" width="1" height="1" fill="#ff0000"/>
<rect x="877" y="734" width="3" height="2" fill="#ff0000"/>
<rect x="881" y="734" width="1" height="1" fill="#000000"/>
<rect x="880" y="735" width="3" height="2" fill="#000000"/>
<rect x="884" y="738" width="1" height="7" fill="#ff0000"/>
<rect x="883" y="737" width="3" height="1" fill="#ff0000"/>
<rect x="887" y="732" width="1" height="1" fill="#ff0000"/>
<rect x="886" y="733" width="3" height="6" fill="#ff0000"/>
<rect x="887" y="734" width="1" height="4" fill="#fff"/>
<rect x="891" y="735" width="1" height="1" fill="#000000"/>
<rect x="890" y="736" width="3" height="3" fill="#000000"/>
<rect x="891" y="737" width="1" height="1" fill="#fff"/>
<rect x="893" y="735" width="3" height="6" fill="#ff0000"/>
<rect x="894" y="736" width="1" height="4" fill="#fff"/>
<rect x="896" y="738" width="3" height="3" fill="#ff0000"/>
<rect x="897" y="739" width="1" height="1" fill="#fff"/>
<rect x="900" y="740" width="1" height="2" fill="#ff0000"/>
<rect x="899" y="742" width="3" height="2" fill="#ff0000"/>
<rect x="904" y="746" width="1" height="3" fill="#ff0000"/>
<rect x="903" y="744" width="3" height="2" fill="#ff0000"/>
<rect x="907" y="741" width="1" height="2" fill="#ff0000"/>
<rect x="906" y="743" width="3" height="2" fill="#ff0000"/>
<rect x="910" y="732" width="1" height="1" fill="#000000"/>
<rect x="909" y="733" width="3" height="11" fill="#000000"/>
<rect x="910" y="734" width="1" height="9" fill="#fff"/>
<rect x="913" y="733" width="1" height="2" fill="#ff0000"/>
<rect x="912" y="735" width="3" height="2" fill="#ff0000"/>
<rect x="917" y="732" width="1" height="2" fill="#000000"/>
<rect x="916" y="734" width="3" height="2" fill="#000000"/>
<rect x="920" y="738" width="1" height="1" fill="#000000"/>
<rect x="919" y="733" width="3" height="5" fill="#000000"/>
<rect x="920" y="734" width="1" height="3" fill="#fff"/>
<rect x="923" y="725" width="1" height="5" fill="#ff0000"/>
<rect x="922" y="730" width="3" height="1" fill="#ff0000"/>
<rect x="927" y="728" width="1" height="2" fill="#ff0000"/>
<rect x="926" y="730" width="3" height="2" fill="#ff0000"/>
<rect x="929" y="732" width="3" height="7" fill="#ff0000"/>
<rect x="930" y="733" width="1" height="5" fill="#fff"/>
<rect x="932" y="733" width="3" height="2" fill="#ff0000"/>
<rect x="936" y="726" width="1" height="1" fill="#000000"/>
<rect x="935" y="727" width="3" height="7" fill="#000000"/>
<rect x="936" y="728" width="1" height="5" fill="#fff"/>
<rect x="940" y="732" width="1" height="4" fill="#000000"/>
<rect x="939" y="730" width="3" height="2" fill="#000000"/>
<rect x="943" y="737" width="1" height="12" fill="#ff0000"/>
<rect x="942" y="749" width="3" height="10" fill="#ff0000"/>
<rect x="943" y="750" width="1" height="8" fill="#fff"/>
<rect x="945" y="765" width="3" height="27" fill="#ff0000"/>
<rect x="946" y="766" width="1" height="25" fill="#fff"/>
<rect x="949" y="775" width="1" height="5" fill="#000000"/>
<rect x="949" y="788" width="1" height="4" fill="#000000"/>
<rect x="948" y="780" width="3" height="8" fill="#000000"/>
<rect x="949" y="781" width="1" height="6" fill="#fff"/>
<rect x="953" y="777" width="1" height="5" fill="#ff0000"/>
<rect x="952" y="782" width="3" height="3" fill="#ff0000"/>
<rect x="953" y="783" width="1" height="1" fill="#fff"/>
<rect x="956" y="787" width="1" height="3" fill="#000000"/>
<rect x="955" y="790" width="3" height="5" fill="#000000"/>
<rect x="956" y="791" width="1" height="3" fill="#fff"/>
<rect x="959" y="787" width="1" height="2" fill="#000000"/>
<rect x="958" y="789" width="3" height="1" fill="#000000"/>
<rect x="961" y="788" width="3" height="2" fill="#ff0000"/>
<rect x="966" y="792" width="1" height="1" fill="#ff0000"/>
<rect x="965" y="789" width="3" height="3" fill="#ff0000"/>
<rect x="966" y="790" width="1" height="1" fill="#fff"/>
<rect x="968" y="791" width="3" height="2" fill="#ff0000"/>
<rect x="972" y="796" width="1" height="1" fill="#ff0000"/>
<rect x="971" y="797" width="3" height="2" fill="#ff0000"/>
<rect x="975" y="799" width="1" height="1" fill="#000000"/>
<rect x="974" y="796" width="3" height="3" fill="#000000"/>
<rect x="975" y="797" width="1" height="1" fill="#fff"/>
<rect x="978" y="789" width="3" height="6" fill="#000000"/>
<rect x="979" y="790" width="1" height="4" fill="#fff"/>
<rect x="982" y="790" width="1" height="1" fill="#ff0000"/>
<rect x="981" y="788" width="3" height="2" fill="#ff0000"/>
<rect x="984" y="789" width="3" height="2" fill="#000000"/>
<rect x="988" y="790" width="1" height="2" fill="#000000"/>
<rect x="987" y="792" width="3" height="2" fill="#000000"/>
<rect x="992" y="790" width="1" height="1" fill="#ff0000"/>
<rect x="991" y="791" width="3" height="2" fill="#ff0000"/>
<rect x="995" y="790" width="1" height="1" fill="#000000"/>
<rect x="994" y="791" width="3" height="2" fill="#000000"/>
<rect x="997" y="790" width="3" height="2" fill="#ff0000"/>
<rect x="1000" y="791" width="3" height="3" fill="#000000"/>
<rect x="1001" y="792" width="1" height="1" fill="#fff"/>
<rect x="1005" y="789" width="1" height="1" fill="#ff0000"/>
<rect x="1004" y="790" width="3" height="2" fill="#ff0000"/>
<rect x="1007" y="789" width="3" height="2" fill="#ff0000"/>
<rect x="1011" y="789" width="1" height="1" fill="#ff0000"/>
<rect x="1010" y="790" width="3" height="2" fill="#ff0000"/>
<rect x="1014" y="790" width="1" height="1" fill="#000000"/>
<rect x="1013" y="791" width="3" height="2" fill="#000000"/>
<rect x="1018" y="790" width="1" height="1" fill="#ff0000"/>
<rect x="1017" y="791" width="3" height="2" fill="#ff0000"/>
<rect x="1020" y="792" width="3" height="2" fill="#000000"/>
<rect x="1023" y="790" width="3" height="4" fill="#000000"/>
<rect x="1024" y="791" width="1" height="2" fill="#fff"/>
<rect x="1027" y="787" width="1" height="2" fill="#000000"/>
<rect x="1026" y="789" width="3" height="2" fill="#000000"/>
<rect x="1030" y="789" width="3" height="2" fill="#ff0000"/>
<rect x="1034" y="789" width="1" height="1" fill="#ff0000"/>
<rect x="1033" y="790" width="3" height="5" fill="#ff0000"/>
<rect x="1034" y="791" width="1" height="3" fill="#fff"/>
<rect x="1036" y="795" width="3" height="3" fill="#ff0000"/>
<rect x="1037" y="796" width="1" height="1" fill="#fff"/>
<rect x="1039" y="795" width="3" height="2" fill="#ff0000"/>
<rect x="1043" y="796" width="3" height="2" fill="#ff0000"/>
<rect x="1046" y="796" width="3" height="2" fill="#ff0000"/>
<rect x="1049" y="796" width="3" height="3" fill="#ff0000"/>
<rect x="1050" y="797" width="1" height="1" fill="#fff"/>
<rect x="1053" y="798" width="3" height="3" fill="#ff0000"/>
<rect x="1054" y="799" width="1" height="1" fill="#fff"/>
<rect x="1056" y="800" width="3" height="4" fill="#ff0000"/>
<rect x="1057" y="801" width="1" height="2" fill="#fff"/>
<rect x="1060" y="809" width="1" height="1" fill="#ff0000"/>
<rect x="1059" y="803" width="3" height="6" fill="#ff0000"/>
<rect x="1060" y="804" width="1" height="4" fill="#fff"/>
<rect x="1062" y="803" width="3" height="3" fill="#000000"/>
<rect x="1063" y="804" width="1" height="1" fill="#fff"/>
<rect x="1067" y="792" width="1" height="1" fill="#000000"/>
<rect x="1066" y="793" width="3" height="7" fill="#000000"/>
<rect x="1067" y="794" width="1" height="5" fill="#fff"/>
<rect x="1070" y="790" width="1" height="1" fill="#ff0000"/>
<rect x="1069" y="791" width="3" height="4" fill="#ff0000"/>
<rect x="1070" y="792" width="1" height="2" fill="#fff"/>
<rect x="1072" y="791" width="3" height="2" fill="#000000"/>
<rect x="1075" y="792" width="3" height="2" fill="#000000"/>
<rect x="1080" y="779" width="1" height="4" fill="#000000"/>
<rect x="1079" y="783" width="3" height="2" fill="#000000"/>
<rect x="1082" y="782" width="3" height="2" fill="#000000"/>
<rect x="1086" y="785" width="1" height="1" fill="#000000"/>
<rect x="1085" y="783" width="3" height="2" fill="#000000"/>
<rect x="1089" y="781" width="1" height="1" fill="#000000"/>
<rect x="1089" y="784" width="1" height="1" fill="#000000"/>
<rect x="1088" y="782" width="3" height="2" fill="#000000"/>
<rect x="1092" y="780" width="3" height="2" fill="#000000"/>
<rect x="1096" y="756" width="1" height="3" fill="#000000"/>
<rect x="1095" y="759" width="3" height="3" fill="#000000"/>
<rect x="1096" y="760" width="1" height="1" fill="#fff"/>
<rect x="1099" y="758" width="1" height="1" fill="#000000"/>
<rect x="1098" y="759" width="3" height="2" fill="#000000"/>
<rect x="1101" y="760" width="3" height="8" fill="#ff0000"/>
<rect x="1102" y="761" width="1" height="6" fill="#fff"/>
<rect x="1106" y="767" width="1" height="2" fill="#000000"/>
<rect x="1105" y="765" width="3" height="2" fill="#000000"/>
<rect x="1108" y="758" width="3" height="10" fill="#000000"/>
<rect x="1109" y="759" width="1" height="8" fill="#fff"/>
<rect x="1112" y="755" width="1" height="1" fill="#ff0000"/>
<rect x="1111" y="756" width="3" height="2" fill="#ff0000"/>
<rect x="1115" y="755" width="1" height="1" fill="#ff0000"/>
<rect x="1114" y="756" width="3" height="2" fill="#ff0000"/>
<rect x="1119" y="757" width="1" height="1" fill="#000000"/>
<rect x="1118" y="758" width="3" height="4" fill="#000000"/>
<rect x="1119" y="759" width="1" height="2" fill="#fff"/>
<rect x="1122" y="755" width="1" height="1" fill="#ff0000"/>
<rect x="1121" y="756" width="3" height="2" fill="#ff0000"/>
<rect x="1125" y="755" width="1" height="1" fill="#000000"/>
<rect x="1124" y="756" width="3" height="3" fill="#000000"/>
<rect x="1125" y="757" width="1" height="1" fill="#fff"/>
<rect x="1128" y="747" width="1" height="6" fill="#ff0000"/>
<rect x="1127" y="753" width="3" height="7" fill="#ff0000"/>
<rect x="1128" y="754" width="1" height="5" fill="#fff"/>
<rect x="1132" y="757" width="1" height="1" fill="#000000"/>
<rect x="1131" y="758" width="3" height="1" fill="#000000"/>
<rect x="1135" y="759" width="1" height="4" fill="#000000"/>
<rect x="1134" y="756" width="3" height="3" fill="#000000"/>
<rect x="1135" y="757" width="1" height="1" fill="#fff"/>
<rect x="1138" y="752" width="1" height="1" fill="#ff0000"/>
<rect x="1137" y="753" width="3" height="3" fill="#ff0000"/>
<rect x="1138" y="754" width="1" height="1" fill="#fff"/>
<rect x="1141" y="754" width="1" height="2" fill="#000000"/>
<rect x="1140" y="756" width="3" height="2" fill="#000000"/>
<rect x="1145" y="759" width="1" height="1" fill="#ff0000"/>
<rect x="1144" y="760" width="3" height="2" fill="#ff0000"/>
<rect x="1147" y="759" width="3" height="4" fill="#000000"/>
<rect x="1148" y="760" width="1" height="2" fill="#fff"/>
<rect x="1150" y="758" width="3" height="5" fill="#ff0000"/>
<rect x="1151" y="759" width="1" height="3" fill="#fff"/>
<rect x="1154" y="761" width="1" height="2" fill="#ff0000"/>
<rect x="1153" y="763" width="3" height="3" fill="#ff0000"/>
<rect x="1154" y="764" width="1" height="1" fill="#fff"/>
<rect x="1158" y="767" width="1" height="1" fill="#000000"/>
<rect x="1157" y="768" width="3" height="2" fill="#000000"/>
<rect x="1161" y="771" width="1" height="1" fill="#ff0000"/>
<rect x="1160" y="767" width="3" height="4" fill="#ff0000"/>
<rect x="1161" y="768" width="1" height="2" fill="#fff"/>
<rect x="1163" y="764" width="3" height="6" fill="#000000"/>
<rect x="1164" y="765" width="1" height="4" fill="#fff"/>
<rect x="1166" y="760" width="3" height="6" fill="#000000"/>
<rect x="1167" y="761" width="1" height="4" fill="#fff"/>
<rect x="1170" y="758" width="3" height="3" fill="#ff0000"/>
<rect x="1171" y="759" width="1" height="1" fill="#fff"/>
<rect x="1173" y="759" width="3" height="4" fill="#000000"/>
<rect x="1174" y="760" width="1" height="2" fill="#fff"/>
<rect x="1177" y="749" width="1" height="2" fill="#000000"/>
<rect x="1176" y="751" width="3" height="2" fill="#000000"/>
<rect x="1180" y="751" width="1" height="1" fill="#ff0000"/>
<rect x="1180" y="755" width="1" height="1" fill="#ff0000"/>
<rect x="1179" y="752" width="3" height="3" fill="#ff0000"/>
<rect x="1180" y="753" width="1" height="1" fill="#fff"/>
<rect x="1183" y="757" width="3" height="3" fill="#ff0000"/>
<rect x="1184" y="758" width="1" height="1" fill="#fff"/>
<rect x="1186" y="756" width="3" height="2" fill="#ff0000"/>
<rect x="1190" y="762" width="1" height="1" fill="#ff0000"/>
<rect x="1189" y="757" width="3" height="5" fill="#ff0000"/>
<rect x="1190" y="758" width="1" height="3" fill="#fff"/>
<rect x="1194" y="760" width="1" height="1" fill="#ff0000"/>
<rect x="1193" y="761" width="3" height="3" fill="#ff0000"/>
<rect x="1194" y="762" width="1" height="1" fill="#fff"/>
<rect x="1197" y="762" width="1" height="1" fill="#ff0000"/>
<rect x="1196" y="763" width="3" height="2" fill="#ff0000"/>
<rect x="1200" y="762" width="1" height="1" fill="#ff0000"/>
<rect x="1199" y="763" width="3" height="2" fill="#ff0000"/>
<rect x="1202" y="764" width="3" height="2" fill="#000000"/>
<rect x="1206" y="766" width="3" height="2" fill="#000000"/>
<rect x="1210" y="767" width="1" height="1" fill="#ff0000"/>
<rect x="1209" y="768" width="3" height="2" fill="#ff0000"/>
<rect x="1213" y="768" width="1" height="1" fill="#ff0000"/>
<rect x="1212" y="769" width="3" height="2" fill="#ff0000"/>
<rect x="1215" y="770" width="3" height="6" fill="#ff0000"/>
<rect x="1216" y="771" width="1" height="4" fill="#fff"/>
<rect x="1219" y="775" width="3" height="6" fill="#ff0000"/>
<rect x="1220" y="776" width="1" height="4" fill="#fff"/>
<rect x="1223" y="782" width="1" height="2" fill="#000000"/>
<rect x="1222" y="778" width="3" height="4" fill="#000000"/>
<rect x="1223" y="779" width="1" height="2" fill="#fff"/>
<rect x="1226" y="767" width="1" height="2" fill="#000000"/>
<rect x="1226" y="773" width="1" height="1" fill="#000000"/>
<rect x="1225" y="769" width="3" height="4" fill="#000000"/>
<rect x="1226" y="770" width="1" height="2" fill="#fff"/>
<rect x="1229" y="764" width="1" height="5" fill="#000000"/>
<rect x="1228" y="769" width="3" height="1" fill="#000000"/>
<rect x="1232" y="766" width="3" height="8" fill="#ff0000"/>
<rect x="1233" y="767" width="1" height="6" fill="#fff"/>
<rect x="1236" y="771" width="1" height="1" fill="#000000"/>
<rect x="1235" y="772" width="3" height="2" fill="#000000"/>
<rect x="1239" y="768" width="1" height="1" fill="#000000"/>
<rect x="1238" y="769" width="3" height="2" fill="#000000"/>
<rect x="1242" y="759" width="1" height="4" fill="#000000"/>
<rect x="1241" y="763" width="3" height="2" fill="#000000"/>
<rect x="1246" y="761" width="1" height="1" fill="#000000"/>
<rect x="1246" y="764" width="1" height="2" fill="#000000"/>
<rect x="1245" y="762" width="3" height="2" fill="#000000"/>
<rect x="1249" y="761" width="1" height="2" fill="#ff0000"/>
<rect x="1248" y="763" width="3" height="5" fill="#ff0000"/>
<rect x="1249" y="764" width="1" height="3" fill="#fff"/>
<rect x="1252" y="762" width="1" height="2" fill="#000000"/>
<rect x="1251" y="764" width="3" height="3" fill="#000000"/>
<rect x="1252" y="765" width="1" height="1" fill="#fff"/>
<rect x="1254" y="764" width="3" height="6" fill="#ff0000"/>
<rect x="1255" y="765" width="1" height="4" fill="#fff"/>
<rect x="1258" y="768" width="3" height="5" fill="#ff0000"/>
<rect x="1259" y="769" width="1" height="3" fill="#fff"/>
<rect x="1262" y="768" width="1" height="1" fill="#000000"/>
<rect x="1261" y="769" width="3" height="3" fill="#000000"/>
<rect x="1262" y="770" width="1" height="1" fill="#fff"/>
<rect x="1265" y="766" width="1" height="2" fill="#000000"/>
<rect x="1264" y="768" width="3" height="2" fill="#000000"/>
<rect x="1267" y="767" width="3" height="4" fill="#ff0000"/>
<rect x="1268" y="768" width="1" height="2" fill="#fff"/>
<rect x="1272" y="767" width="1" height="1" fill="#000000"/>
<rect x="1271" y="768" width="3" height="2" fill="#000000"/>
<rect x="1275" y="768" width="1" height="1" fill="#000000"/>
<rect x="1274" y="769" width="3" height="3" fill="#000000"/>
<rect x="1275" y="770" width="1" height="1" fill="#fff"/>
<rect x="1278" y="767" width="1" height="1" fill="#000000"/>
<rect x="1277" y="768" width="3" height="2" fill="#000000"/>
<rect x="1281" y="766" width="1" height="1" fill="#ff0000"/>
<rect x="1280" y="767" width="3" height="3" fill="#ff0000"/>
<rect x="1281" y="768" width="1" height="1" fill="#fff"/>
<rect x="1284" y="768" width="3" height="2" fill="#ff0000"/>
<rect x="1287" y="759" width="3" height="10" fill="#000000"/>
<rect x="1288" y="760" width="1" height="8" fill="#fff"/>
<rect x="1290" y="757" width="3" height="6" fill="#000000"/>
<rect x="1291" y="758" width="1" height="4" fill="#fff"/>
<rect x="1294" y="754" width="1" height="1" fill="#000000"/>
<rect x="1293" y="755" width="3" height="5" fill="#000000"/>
<rect x="1294" y="756" width="1" height="3" fill="#fff"/>
<rect x="1298" y="753" width="1" height="1" fill="#ff0000"/>
<rect x="1298" y="758" width="1" height="1" fill="#ff0000"/>
<rect x="1297" y="754" width="3" height="4" fill="#ff0000"/>
<rect x="1298" y="755" width="1" height="2" fill="#fff"/>
<rect x="1300" y="752" width="3" height="4" fill="#ff0000"/>
<rect x="1301" y="753" width="1" height="2" fill="#fff"/>
<rect x="1304" y="753" width="1" height="3" fill="#000000"/>
<rect x="1303" y="756" width="3" height="2" fill="#000000"/>
<rect x="1306" y="755" width="3" height="8" fill="#ff0000"/>
<rect x="1307" y="756" width="1" height="6" fill="#fff"/>
<rect x="1311" y="761" width="1" height="1" fill="#ff0000"/>
<rect x="1310" y="762" width="3" height="5" fill="#ff0000"/>
<rect x="1311" y="763" width="1" height="3" fill="#fff"/>
<rect x="1314" y="763" width="1" height="1" fill="#ff0000"/>
<rect x="1313" y="764" width="3" height="3" fill="#ff0000"/>
<rect x="1314" y="765" width="1" height="1" fill="#fff"/>
<rect x="1317" y="764" width="1" height="1" fill="#ff0000"/>
<rect x="1316" y="765" width="3" height="2" fill="#ff0000"/>
<rect x="1320" y="767" width="3" height="2" fill="#000000"/>
<rect x="1324" y="761" width="1" height="4" fill="#ff0000"/>
<rect x="1323" y="765" width="3" height="2" fill="#ff0000"/>
<rect x="1327" y="763" width="1" height="1" fill="#000000"/>
<rect x="1326" y="764" width="3" height="3" fill="#000000"/>
<rect x="1327" y="765" width="1" height="1" fill="#fff"/>
<rect x="1329" y="760" width="3" height="4" fill="#000000"/>
<rect x="1330" y="761" width="1" height="2" fill="#fff"/>
<rect x="1333" y="763" width="3" height="3" fill="#000000"/>
<rect x="1334" y="764" width="1" height="1" fill="#fff"/>
<rect x="1337" y="764" width="1" height="1" fill="#ff0000"/>
<rect x="1336" y="765" width="3" height="3" fill="#ff0000"/>
<rect x="1337" y="766" width="1" height="1" fill="#fff"/>
<rect x="1339" y="763" width="3" height="3" fill="#ff0000"/>
<rect x="1340" y="764" width="1" height="1" fill="#fff"/>
<rect x="1342" y="761" width="3" height="4" fill="#000000"/>
<rect x="1343" y="762" width="1" height="2" fill="#fff"/>
<rect x="1346" y="766" width="3" height="5" fill="#ff0000"/>
<rect x="1347" y="767" width="1" height="3" fill="#fff"/>
<rect x="1350" y="767" width="1" height="1" fill="#ff0000"/>
<rect x="1349" y="768" width="3" height="2" fill="#ff0000"/>
<rect x="1352" y="767" width="3" height="3" fill="#000000"/>
<rect x="1353" y="768" width="1" height="1" fill="#fff"/>
<rect x="1355" y="768" width="3" height="4" fill="#ff0000"/>
<rect x="1356" y="769" width="1" height="2" fill="#fff"/>
<rect x="1360" y="769" width="1" height="1" fill="#000000"/>
<rect x="1359" y="770" width="3" height="2" fill="#000000"/>
<rect x="1362" y="766" width="3" height="2" fill="#ff0000"/>
<rect x="1366" y="767" width="1" height="1" fill="#ff0000"/>
<rect x="1365" y="768" width="3" height="2" fill="#ff0000"/>
<rect x="1369" y="769" width="1" height="1" fill="#000000"/>
<rect x="1368" y="767" width="3" height="2" fill="#000000"/>
<rect x="1372" y="767" width="3" height="3" fill="#ff0000"/>
<rect x="1373" y="768" width="1" height="1" fill="#fff"/>
<rect x="1375" y="769" width="3" height="2" fill="#000000"/>
<rect x="1378" y="771" width="3" height="3" fill="#000000"/>
<rect x="1379" y="772" width="1" height="1" fill="#fff"/>
<rect x="1381" y="770" width="3" height="3" fill="#ff0000"/>
<rect x="1382" y="771" width="1" height="1" fill="#fff"/>
<rect x="1385" y="772" width="3" height="3" fill="#ff0000"/>
<rect x="1386" y="773" width="1" height="1" fill="#fff"/>
<rect x="1389" y="772" width="1" height="1" fill="#ff0000"/>
<rect x="1388" y="773" width="3" height="2" fill="#ff0000"/>
<rect x="1391" y="772" width="3" height="3" fill="#000000"/>
<rect x="1392" y="773" width="1" height="1" fill="#fff"/>
<rect x="1394" y="768" width="3" height="2" fill="#ff0000"/>
<rect x="1398" y="766" width="3" height="3" fill="#000000"/>
<rect x="1399" y="767" width="1" height="1" fill="#fff"/>
<rect x="1401" y="767" width="3" height="3" fill="#ff0000"/>
<rect x="1402" y="768" width="1" height="1" fill="#fff"/>
<rect x="1404" y="768" width="3" height="2" fill="#000000"/>
<rect x="1407" y="766" width="3" height="4" fill="#000000"/>
<rect x="1408" y="767" width="1" height="2" fill="#fff"/>
<rect x="1411" y="765" width="3" height="8" fill="#ff0000"/>
<rect x="1412" y="766" width="1" height="6" fill="#fff"/>
<rect x="1414" y="769" width="3" height="3" fill="#000000"/>
<rect x="1415" y="770" width="1" height="1" fill="#fff"/>
<rect x="1417" y="770" width="3" height="6" fill="#ff0000"/>
<rect x="1418" y="771" width="1" height="4" fill="#fff"/>
<rect x="1420" y="774" width="3" height="3" fill="#000000"/>
<rect x="1421" y="775" width="1" height="1" fill="#fff"/>
<rect x="1425" y="773" width="1" height="2" fill="#ff0000"/>
<rect x="1424" y="775" width="3" height="4" fill="#ff0000"/>
<rect x="1425" y="776" width="1" height="2" fill="#fff"/>
<rect x="1428" y="785" width="1" height="1" fill="#ff0000"/>
<rect x="1427" y="786" width="3" height="3" fill="#ff0000"/>
<rect x="1428" y="787" width="1" height="1" fill="#fff"/>
<rect x="1431" y="784" width="1" height="1" fill="#ff0000"/>
<rect x="1430" y="785" width="3" height="3" fill="#ff0000"/>
<rect x="1431" y="786" width="1" height="1" fill="#fff"/>
<rect x="1433" y="786" width="3" height="2" fill="#ff0000"/>
<rect x="1437" y="787" width="3" height="2" fill="#ff0000"/>
<rect x="1441" y="785" width="1" height="1" fill="#000000"/>
<rect x="1440" y="786" width="3" height="3" fill="#000000"/>
<rect x="1441" y="787" width="1" height="1" fill="#fff"/>
<rect x="1443" y="784" width="3" height="2" fill="#000000"/>
<rect x="1447" y="782" width="3" height="2" fill="#000000"/>
<rect x="1450" y="780" width="3" height="2" fill="#000000"/>
<rect x="1453" y="778" width="3" height="4" fill="#ff0000"/>
<rect x="1454" y="779" width="1" height="2" fill="#fff"/>
<rect x="1456" y="780" width="3" height="2" fill="#000000"/>
<rect x="1461" y="780" width="1" height="1" fill="#ff0000"/>
<rect x="1460" y="781" width="3" height="2" fill="#ff0000"/>
<rect x="1463" y="781" width="3" height="2" fill="#000000"/>
<rect x="1466" y="782" width="3" height="3" fill="#ff0000"/>
<rect x="1467" y="783" width="1" height="1" fill="#fff"/>
<rect x="1470" y="777" width="1" height="1" fill="#000000"/>
<rect x="1469" y="778" width="3" height="6" fill="#000000"/>
<rect x="1470" y="779" width="1" height="4" fill="#fff"/>
<rect x="1474" y="771" width="1" height="2" fill="#000000"/>
<rect x="1474" y="776" width="1" height="3" fill="#000000"/>
<rect x="1473" y="773" width="3" height="3" fill="#000000"/>
<rect x="1474" y="774" width="1" height="1" fill="#fff"/>
<rect x="1476" y="772" width="3" height="3" fill="#ff0000"/>
<rect x="1477" y="773" width="1" height="1" fill="#fff"/>
<rect x="1480" y="771" width="1" height="1" fill="#000000"/>
<rect x="1479" y="772" width="3" height="3" fill="#000000"/>
<rect x="1480" y="773" width="1" height="1" fill="#fff"/>
<rect x="1482" y="773" width="3" height="4" fill="#ff0000"/>
<rect x="1483" y="774" width="1" height="2" fill="#fff"/>
<rect x="1486" y="768" width="3" height="5" fill="#000000"/>
<rect x="1487" y="769" width="1" height="3" fill="#fff"/>
<rect x="1490" y="772" width="1" height="1" fill="#000000"/>
<rect x="1489" y="766" width="3" height="6" fill="#000000"/>
<rect x="1490" y="767" width="1" height="4" fill="#fff"/>
<rect x="1493" y="768" width="1" height="2" fill="#000000"/>
<rect x="1492" y="766" width="3" height="2" fill="#000000"/>
<rect x="1496" y="763" width="1" height="1" fill="#000000"/>
<rect x="1495" y="764" width="3" height="2" fill="#000000"/>
<rect x="1500" y="762" width="1" height="2" fill="#ff0000"/>
<rect x="1499" y="764" width="3" height="3" fill="#ff0000"/>
<rect x="1500" y="765" width="1" height="1" fill="#fff"/>
<rect x="1503" y="751" width="1" height="2" fill="#000000"/>
<rect x="1502" y="753" width="3" height="14" fill="#000000"/>
<rect x="1503" y="754" width="1" height="12" fill="#fff"/>
<rect x="1506" y="742" width="1" height="1" fill="#ff0000"/>
<rect x="1505" y="743" width="3" height="9" fill="#ff0000"/>
<rect x="1506" y="744" width="1" height="7" fill="#fff"/>
<rect x="1508" y="744" width="3" height="8" fill="#ff0000"/>
<rect x="1509" y="745" width="1" height="6" fill="#fff"/>
<rect x="1513" y="754" width="1" height="2" fill="#ff0000"/>
<rect x="1512" y="749" width="3" height="5" fill="#ff0000"/>
<rect x="1513" y="750" width="1" height="3" fill="#fff"/>
<rect x="1516" y="752" width="1" height="1" fill="#000000"/>
<rect x="1515" y="749" width="3" height="3" fill="#000000"/>
<rect x="1516" y="750" width="1" height="1" fill="#fff"/>
<rect x="1519" y="747" width="1" height="2" fill="#ff0000"/>
<rect x="1518" y="749" width="3" height="6" fill="#ff0000"/>
<rect x="1519" y="750" width="1" height="4" fill="#fff"/>
<rect x="1521" y="752" width="3" height="3" fill="#000000"/>
<rect x="1522" y="753" width="1" height="1" fill="#fff"/>
<rect x="1525" y="756" width="3" height="6" fill="#ff0000"/>
<rect x="1526" y="757" width="1" height="4" fill="#fff"/>
<rect x="1528" y="759" width="3" height="3" fill="#ff0000"/>
<rect x="1529" y="760" width="1" height="1" fill="#fff"/>
<rect x="1531" y="754" width="3" height="6" fill="#000000"/>
<rect x="1532" y="755" width="1" height="4" fill="#fff"/>
<rect x="1535" y="753" width="1" height="2" fill="#000000"/>
<rect x="1534" y="755" width="3" height="2" fill="#000000"/>
<rect x="1539" y="753" width="1" height="1" fill="#000000"/>
<rect x="1538" y="754" width="3" height="3" fill="#000000"/>
<rect x="1539" y="755" width="1" height="1" fill="#fff"/>
<rect x="1541" y="755" width="3" height="5" fill="#ff0000"/>
<rect x="1542" y="756" width="1" height="3" fill="#fff"/>
<rect x="1544" y="759" width="3" height="3" fill="#000000"/>
<rect x="1545" y="760" width="1" height="1" fill="#fff"/>
<rect x="1547" y="758" width="3" height="4" fill="#ff0000"/>
<rect x="1548" y="759" width="1" height="2" fill="#fff"/>
<rect x="1551" y="760" width="3" height="3" fill="#ff0000"/>
<rect x="1552" y="761" width="1" height="1" fill="#fff"/>
<rect x="1555" y="759" width="1" height="2" fill="#000000"/>
<rect x="1554" y="761" width="3" height="2" fill="#000000"/>
<rect x="1557" y="760" width="3" height="3" fill="#ff0000"/>
<rect x="1558" y="761" width="1" height="1" fill="#fff"/>
<rect x="1560" y="756" width="3" height="7" fill="#000000"/>
<rect x="1561" y="757" width="1" height="5" fill="#fff"/>
<rect x="1565" y="755" width="1" height="2" fill="#000000"/>
<rect x="1564" y="757" width="3" height="2" fill="#000000"/>
<rect x="1568" y="755" width="1" height="1" fill="#000000"/>
<rect x="1567" y="756" width="3" height="3" fill="#000000"/>
<rect x="1568" y="757" width="1" height="1" fill="#fff"/>
<rect x="1570" y="755" width="3" height="3" fill="#ff0000"/>
<rect x="1571" y="756" width="1" height="1" fill="#fff"/>
<rect x="1574" y="754" width="1" height="1" fill="#000000"/>
<rect x="1573" y="755" width="3" height="3" fill="#000000"/>
<rect x="1574" y="756" width="1" height="1" fill="#fff"/>
<rect x="1578" y="754" width="1" height="1" fill="#ff0000"/>
<rect x="1577" y="755" width="3" height="5" fill="#ff0000"/>
<rect x="1578" y="756" width="1" height="3" fill="#fff"/>
<rect x="1581" y="758" width="1" height="1" fill="#ff0000"/>
<rect x="1580" y="759" width="3" height="2" fill="#ff0000"/>
<rect x="1583" y="760" width="3" height="2" fill="#ff0000"/>
<rect x="1588" y="764" width="1" height="2" fill="#ff0000"/>
<rect x="1587" y="766" width="3" height="2" fill="#ff0000"/>
<rect x="1591" y="765" width="1" height="1" fill="#ff0000"/>
<rect x="1590" y="766" width="3" height="3" fill="#ff0000"/>
<rect x="1591" y="767" width="1" height="1" fill="#fff"/>
<rect x="1594" y="767" width="1" height="1" fill="#ff0000"/>
<rect x="1593" y="768" width="3" height="3" fill="#ff0000"/>
<rect x="1594" y="769" width="1" height="1" fill="#fff"/>
<rect x="1596" y="766" width="3" height="4" fill="#000000"/>
<rect x="1597" y="767" width="1" height="2" fill="#fff"/>
<rect x="1601" y="764" width="1" height="1" fill="#ff0000"/>
<rect x="1600" y="765" width="3" height="4" fill="#ff0000"/>
<rect x="1601" y="766" width="1" height="2" fill="#fff"/>
<rect x="1604" y="768" width="1" height="1" fill="#ff0000"/>
<rect x="1603" y="769" width="3" height="2" fill="#ff0000"/>
<rect x="1607" y="768" width="1" height="1" fill="#000000"/>
<rect x="1606" y="769" width="3" height="1" fill="#000000"/>
<rect x="1609" y="765" width="3" height="5" fill="#000000"/>
<rect x="1610" y="766" width="1" height="3" fill="#fff"/>
<rect x="1613" y="765" width="3" height="4" fill="#ff0000"/>
<rect x="1614" y="766" width="1" height="2" fill="#fff"/>
<rect x="1617" y="767" width="1" height="1" fill="#ff0000"/>
<rect x="1616" y="768" width="3" height="4" fill="#ff0000"/>
<rect x="1617" y="769" width="1" height="2" fill="#fff"/>
<rect x="1619" y="771" width="3" height="3" fill="#ff0000"/>
<rect x="1620" y="772" width="1" height="1" fill="#fff"/>
<rect x="1622" y="771" width="3" height="2" fill="#ff0000"/>
<rect x="1626" y="769" width="3" height="5" fill="#000000"/>
<rect x="1627" y="770" width="1" height="3" fill="#fff"/>
<rect x="1629" y="770" width="3" height="4" fill="#ff0000"/>
<rect x="1630" y="771" width="1" height="2" fill="#fff"/>
<rect x="1632" y="771" width="3" height="2" fill="#ff0000"/>
<rect x="1635" y="770" width="3" height="4" fill="#ff0000"/>
<rect x="1636" y="771" width="1" height="2" fill="#fff"/>
<rect x="1639" y="776" width="3" height="3" fill="#ff0000"/>
<rect x="1640" y="777" width="1" height="1" fill="#fff"/>
<rect x="1643" y="775" width="1" height="1" fill="#ff0000"/>
<rect x="1642" y="776" width="3" height="2" fill="#ff0000"/>
<rect x="1646" y="775" width="1" height="1" fill="#000000"/>
<rect x="1645" y="776" width="3" height="2" fill="#000000"/>
<rect x="1648" y="774" width="3" height="2" fill="#000000"/>
<rect x="1652" y="773" width="3" height="4" fill="#ff0000"/>
<rect x="1653" y="774" width="1" height="2" fill="#fff"/>
<rect x="1656" y="769" width="1" height="2" fill="#000000"/>
<rect x="1655" y="771" width="3" height="3" fill="#000000"/>
<rect x="1656" y="772" width="1" height="1" fill="#fff"/>
<rect x="1659" y="769" width="1" height="2" fill="#000000"/>
<rect x="1658" y="771" width="3" height="1" fill="#000000"/>
<rect x="1662" y="769" width="1" height="1" fill="#000000"/>
<rect x="1661" y="770" width="3" height="2" fill="#000000"/>
<rect x="1665" y="770" width="3" height="3" fill="#ff0000"/>
<rect x="1666" y="771" width="1" height="1" fill="#fff"/>
<rect x="1668" y="771" width="3" height="2" fill="#ff0000"/>
<rect x="1672" y="771" width="1" height="1" fill="#ff0000"/>
<rect x="1671" y="772" width="3" height="2" fill="#ff0000"/>
<rect x="1674" y="772" width="3" height="3" fill="#ff0000"/>
<rect x="1675" y="773" width="1" height="1" fill="#fff"/>
<rect x="1679" y="772" width="1" height="2" fill="#000000"/>
<rect x="1678" y="774" width="3" height="1" fill="#000000"/>
<rect x="1681" y="772" width="3" height="3" fill="#000000"/>
<rect x="1682" y="773" width="1" height="1" fill="#fff"/>
<rect x="1685" y="769" width="1" height="1" fill="#000000"/>
<rect x="1684" y="770" width="3" height="2" fill="#000000"/>
<rect x="1688" y="756" width="1" height="1" fill="#ff0000"/>
<rect x="1687" y="757" width="3" height="4" fill="#ff0000"/>
<rect x="1688" y="758" width="1" height="2" fill="#fff"/>
<rect x="1692" y="756" width="1" height="3" fill="#000000"/>
<rect x="1691" y="759" width="3" height="2" fill="#000000"/>
<rect x="1695" y="759" width="1" height="1" fill="#ff0000"/>
<rect x="1694" y="760" width="3" height="2" fill="#ff0000"/>
<rect x="1698" y="759" width="1" height="1" fill="#ff0000"/>
<rect x="1697" y="760" width="3" height="4" fill="#ff0000"/>
<rect x="1698" y="761" width="1" height="2" fill="#fff"/>
<rect x="1700" y="759" width="3" height="3" fill="#000000"/>
<rect x="1701" y="760" width="1" height="1" fill="#fff"/>
<rect x="1704" y="760" width="3" height="4" fill="#ff0000"/>
<rect x="1705" y="761" width="1" height="2" fill="#fff"/>
<rect x="1707" y="763" width="3" height="3" fill="#ff0000"/>
<rect x="1708" y="764" width="1" height="1" fill="#fff"/>
<rect x="1711" y="763" width="1" height="1" fill="#ff0000"/>
<rect x="1710" y="764" width="3" height="2" fill="#ff0000"/>
<rect x="1714" y="765" width="3" height="2" fill="#ff0000"/>
<rect x="1717" y="765" width="3" height="4" fill="#000000"/>
<rect x="1718" y="766" width="1" height="2" fill="#fff"/>
<rect x="1721" y="757" width="1" height="2" fill="#000000"/>
<rect x="1720" y="759" width="3" height="7" fill="#000000"/>
<rect x="1721" y="760" width="1" height="5" fill="#fff"/>
<rect x="1724" y="756" width="1" height="1" fill="#000000"/>
<rect x="1723" y="757" width="3" height="2" fill="#000000"/>
<rect x="1727" y="757" width="3" height="4" fill="#ff0000"/>
<rect x="1728" y="758" width="1" height="2" fill="#fff"/>
<rect x="1731" y="753" width="1" height="1" fill="#000000"/>
<rect x="1730" y="754" width="3" height="8" fill="#000000"/>
<rect x="1731" y="755" width="1" height="6" fill="#fff"/>
<rect x="1734" y="748" width="1" height="2" fill="#000000"/>
<rect x="1733" y="750" width="3" height="3" fill="#000000"/>
<rect x="1734" y="751" width="1" height="1" fill="#fff"/>
<rect x="1737" y="735" width="1" height="3" fill="#ff0000"/>
<rect x="1737" y="740" width="1" height="3" fill="#ff0000"/>
<rect x="1736" y="738" width="3" height="2" fill="#ff0000"/>
<rect x="1740" y="733" width="3" height="5" fill="#ff0000"/>
<rect x="1741" y="734" width="1" height="3" fill="#fff"/>
<rect x="1744" y="727" width="1" height="2" fill="#000000"/>
<rect x="1743" y="729" width="3" height="7" fill="#000000"/>
<rect x="1744" y="730" width="1" height="5" fill="#fff"/>
<rect x="1747" y="729" width="1" height="1" fill="#ff0000"/>
<rect x="1746" y="730" width="3" height="5" fill="#ff0000"/>
<rect x="1747" y="731" width="1" height="3" fill="#fff"/>
<rect x="1750" y="728" width="1" height="4" fill="#ff0000"/>
<rect x="1749" y="732" width="3" height="2" fill="#ff0000"/>
<rect x="1753" y="723" width="3" height="8" fill="#000000"/>
<rect x="1754" y="724" width="1" height="6" fill="#fff"/>
<rect x="1756" y="718" width="3" height="3" fill="#000000"/>
<rect x="1757" y="719" width="1" height="1" fill="#fff"/>
<rect x="1760" y="688" width="1" height="12" fill="#000000"/>
<rect x="1759" y="700" width="3" height="14" fill="#000000"/>
<rect x="1760" y="701" width="1" height="12" fill="#fff"/>
<rect x="1763" y="692" width="1" height="7" fill="#ff0000"/>
<rect x="1763" y="702" width="1" height="7" fill="#ff0000"/>
<rect x="1762" y="699" width="3" height="3" fill="#ff0000"/>
<rect x="1763" y="700" width="1" height="1" fill="#fff"/>
<rect x="1767" y="708" width="1" height="1" fill="#000000"/>
<rect x="1766" y="709" width="3" height="4" fill="#000000"/>
<rect x="1767" y="710" width="1" height="2" fill="#fff"/>
<rect x="1770" y="707" width="1" height="1" fill="#ff0000"/>
<rect x="1769" y="704" width="3" height="3" fill="#ff0000"/>
<rect x="1770" y="705" width="1" height="1" fill="#fff"/>
<rect x="1772" y="694" width="3" height="10" fill="#000000"/>
<rect x="1773" y="695" width="1" height="8" fill="#fff"/>
<rect x="1776" y="694" width="1" height="1" fill="#ff0000"/>
<rect x="1775" y="695" width="3" height="3" fill="#ff0000"/>
<rect x="1776" y="696" width="1" height="1" fill="#fff"/>
<rect x="1780" y="679" width="1" height="14" fill="#ff0000"/>
<rect x="1779" y="693" width="3" height="4" fill="#ff0000"/>
<rect x="1780" y="694" width="1" height="2" fill="#fff"/>
<rect x="1782" y="670" width="3" height="14" fill="#000000"/>
<rect x="1783" y="671" width="1" height="12" fill="#fff"/>
</g>
<g shape-rendering="crispEdges" stroke="#008080" stroke-width="1">
<line x1="1024" y1="751.5" x2="1848" y2="711.5"/>
<line x1="1024" y1="809.5" x2="1848" y2="767.5"/>
</g>
<g shape-rendering="crispEdges">
<rect x="5" y="860" width="1848" height="1" fill="#000"/>
<rect x="5" y="885" width="1848" height="1" fill="#000"/>
<rect x="5" y="911" width="1848" height="1" fill="#000"/>
</g>
<polyline fill="none" stroke="#ff0000" stroke-width="1" shape-rendering="crispEdges" points="57,871.9 60,878.4 64,885.2 67,888.6 70,890.7 73,888.1 77,882.3 80,875.2 83,868.2 86,861.0 90,858.1 93,858.2 96,859.0 99,861.2 103,864.0 106,863.9 109,861.8 112,859.1 116,855.6 119,852.5 122,851.9 125,853.4 129,856.0 132,859.9 135,865.7 139,872.7 142,881.5 145,890.0 148,897.5 152,901.2 155,902.5 158,900.3 161,898.3 165,896.1 168,895.3 171,892.0 174,886.9 178,880.7 181,876.4 184,874.1 187,876.5 191,884.6 194,894.6 197,903.6 200,911.5 204,916.8 207,917.6 210,916.0 213,911.8 217,904.6 220,895.9 223,887.3 226,878.0 230,870.9 233,867.5 236,868.0 239,872.9 243,883.3 246,895.3 249,906.0 252,915.1 256,921.0 259,922.7 262,921.2 266,918.8 269,915.1 272,910.5 275,906.2 279,904.3 282,903.4 285,905.0 288,908.0 292,911.0 295,912.9 298,914.9 301,915.2 305,914.8 308,913.5 311,911.2 314,907.5 318,902.0 321,894.4 324,886.3 327,878.1 331,870.6 334,867.4 337,869.7 340,874.7 344,882.7 347,893.0 350,901.3 353,906.9 357,911.8 360,915.7 363,916.1 366,914.8 370,910.8 373,903.4 376,893.2 379,884.1 383,876.8 386,874.3 389,876.6 392,882.9 396,891.4 399,900.8 402,908.3 406,913.5 409,916.4 412,915.6 415,910.6 419,901.7 422,890.0 425,877.2 428,866.0 432,858.6 435,854.0 438,852.3 441,851.7 445,851.7 448,850.2 451,849.9 454,850.0 458,851.6 461,854.3 464,860.2 467,868.8 471,880.3 474,891.9 477,903.3 480,912.0 484,916.9 487,918.1 490,918.0 493,915.8 497,914.1 500,913.4 503,913.3 506,913.3 510,915.2 513,917.1 516,918.0 519,919.5 523,920.6 526,921.1 529,920.8 533,922.2 536,922.6 539,922.5 542,921.2 546,919.8 549,916.7 552,913.0 555,909.7 559,906.9 562,904.1 565,901.9 568,901.4 572,901.1 575,901.7 578,904.3 581,907.2 585,909.4 588,912.2 591,915.5 594,917.0 598,918.6 601,919.8 604,920.5 607,919.4 611,918.2 614,916.0 617,912.4 620,906.6 624,901.1 627,894.0 630,885.5 633,877.6 637,872.4 640,868.2 643,868.4 646,873.6 650,881.6 653,889.6 656,896.4 660,898.2 663,894.7 666,888.9 669,883.1 673,878.9 676,877.9 679,880.0 682,881.4 686,879.4 689,875.4 692,870.4 695,865.7 699,863.6 702,867.1 705,873.1 708,880.0 712,886.2 715,890.4 718,890.2 721,888.7 725,886.9 728,884.2 731,882.5 734,882.6 738,881.5 741,878.4 744,876.6 747,874.4 751,873.2 754,874.8 757,880.7 760,888.2 764,897.4 767,905.6 770,912.5 773,917.0 777,918.9 780,919.4 783,919.8 786,920.0 790,919.6 793,919.1 796,918.6 800,917.5 803,914.8 806,909.7 809,901.7 813,892.9 816,885.2 819,880.3 822,879.8 826,884.9 829,891.6 832,897.8 835,903.3 839,907.3 842,907.9 845,907.0 848,904.7 852,900.4 855,893.0 858,887.5 861,881.9 865,877.2 868,874.9 871,876.4 874,878.6 878,884.6 881,893.1 884,900.8 887,906.8 891,910.3 894,910.4 897,907.8 900,906.2 904,905.5 907,906.5 910,905.5 913,903.2 917,897.3 920,888.5 923,877.4 927,869.5 930,864.5 933,863.3 936,864.6 940,868.2 943,874.9 946,883.4 949,891.7 953,901.2 956,910.6 959,916.2 962,918.5 966,920.3 969,921.1 972,921.5 975,921.9 979,922.0 982,920.4 985,916.0 988,908.5 992,898.5 995,887.6 998,878.5 1001,872.2 1005,869.1 1008,868.5 1011,870.0 1014,871.9 1018,875.5 1021,879.7 1024,883.6 1027,886.1 1031,887.8 1034,889.0 1037,891.1 1040,895.2 1044,902.1 1047,910.2 1050,916.7 1054,921.5 1057,924.9 1060,926.3 1063,925.0 1067,920.3 1070,913.0 1073,902.4 1076,888.9 1080,875.6 1083,865.8 1086,858.4 1089,854.2 1093,853.0 1096,852.6 1099,852.2 1102,852.6 1106,853.4 1109,854.3 1112,855.5 1115,856.8 1119,856.7 1122,855.3 1125,854.0 1128,854.5 1132,856.9 1135,861.5 1138,867.7 1141,875.1 1145,881.8 1148,887.6 1151,893.9 1154,900.9 1158,907.7 1161,913.6 1164,917.7 1167,917.8 1171,913.8 1174,906.2 1177,894.9 1180,882.9 1184,873.5 1187,867.1 1190,864.8 1194,868.3 1197,875.6 1200,884.2 1203,894.4 1207,904.7 1210,913.0 1213,918.9 1216,923.0 1220,925.1 1223,925.0 1226,922.0 1229,916.9 1233,910.1 1236,901.1 1239,891.1 1242,882.9 1246,876.3 1249,871.0 1252,867.4 1255,866.5 1259,868.6 1262,873.6 1265,880.8 1268,889.9 1272,897.8 1275,902.8 1278,905.0 1281,905.3 1285,902.8 1288,897.7 1291,890.2 1294,880.9 1298,871.2 1301,862.3 1304,856.7 1307,856.2 1311,860.3 1314,867.1 1317,877.0 1321,888.8 1324,899.7 1327,907.9 1330,912.6 1334,913.4 1337,911.2 1340,907.0 1343,901.2 1347,898.7 1350,898.6 1353,898.4 1356,900.5 1360,906.6 1363,909.4 1366,910.7 1369,912.2 1373,911.1 1376,906.8 1379,904.3 1382,902.2 1386,902.1 1389,904.6 1392,908.2 1395,910.0 1399,908.8 1402,903.7 1405,894.6 1408,883.0 1412,874.7 1415,871.0 1418,871.8 1421,877.2 1425,888.1 1428,898.2 1431,908.0 1434,915.4 1438,921.1 1441,923.4 1444,923.9 1448,922.3 1451,919.3 1454,913.7 1457,906.2 1461,897.6 1464,888.8 1467,881.8 1470,876.5 1474,873.1 1477,870.8 1480,868.8 1483,866.1 1487,863.2 1490,860.0 1493,856.6 1496,854.0 1500,851.5 1503,850.0 1506,850.3 1509,852.3 1513,855.4 1516,858.6 1519,862.6 1522,865.9 1526,870.0 1529,874.5 1532,880.6 1535,886.4 1539,892.4 1542,896.8 1545,899.7 1548,902.0 1552,904.7 1555,908.3 1558,912.5 1561,915.0 1565,914.8 1568,910.8 1571,903.3 1574,892.1 1578,883.5 1581,877.8 1584,877.1 1588,881.2 1591,891.5 1594,901.8 1597,910.8 1601,917.2 1604,920.8 1607,921.2 1610,919.2 1614,917.6 1617,916.3 1620,914.6 1623,912.8 1627,912.8 1630,913.6 1633,913.9 1636,914.5 1640,916.0 1643,918.2 1646,918.8 1649,918.8 1653,918.3 1656,914.4 1659,906.8 1662,897.7 1666,888.9 1669,879.2 1672,873.2 1675,871.1 1679,873.4 1682,877.4 1685,882.7 1688,884.8 1692,883.3 1695,878.9 1698,873.7 1701,868.3 1705,865.8 1708,866.5 1711,869.0 1715,872.8 1718,878.8 1721,884.1 1724,887.0 1728,887.9 1731,884.4 1734,876.7 1737,868.9 1741,862.4 1744,856.2 1747,853.5 1750,853.3 1754,852.8 1757,851.9 1760,852.3 1763,852.6 1767,853.6 1770,856.1 1773,859.3 1776,862.1 1780,864.9 1783,865.3"/>
<polyline fill="none" stroke="#000000" stroke-width="1" shape-rendering="crispEdges" points="44,859.3 47,861.9 51,873.3 54,878.4 57,886.8 60,891.8 64,895.9 67,890.3 70,889.0 73,873.8 77,862.3 80,860.4 83,855.5 86,852.8 90,859.5 93,862.9 96,864.1 99,866.8 103,866.7 106,858.7 109,852.4 112,850.9 116,848.9 119,851.2 122,855.8 125,860.2 129,863.6 132,868.6 135,880.1 139,891.1 142,904.2 145,906.2 148,906.0 152,898.4 155,897.5 158,893.4 161,896.2 165,895.0 168,894.3 171,881.2 174,868.0 178,864.9 181,873.8 184,882.5 187,893.1 191,908.5 194,915.2 197,918.8 200,921.8 204,919.6 207,912.6 210,907.1 213,897.9 217,886.1 220,875.8 223,869.6 226,860.4 230,862.5 233,869.1 236,878.6 239,894.0 243,912.3 246,922.3 249,923.0 252,923.7 256,923.6 259,921.1 262,914.7 266,911.0 269,905.1 272,900.5 275,899.9 279,904.9 282,906.5 285,913.5 288,915.1 292,915.0 295,914.5 298,916.2 301,915.1 305,913.1 308,908.4 311,903.3 314,897.8 318,887.6 321,874.8 324,868.1 327,862.2 331,860.3 334,871.6 337,886.4 340,893.1 344,902.0 347,911.7 350,913.3 353,914.3 357,917.9 360,921.1 363,913.9 366,906.8 370,894.1 373,881.0 376,870.1 379,868.7 383,870.2 386,881.4 389,892.5 392,901.8 396,910.9 399,917.5 402,919.0 406,918.1 409,916.6 412,907.0 415,892.2 419,874.8 422,859.3 425,852.8 428,851.0 432,855.3 435,851.4 438,850.8 441,849.9 445,851.3 448,847.6 451,850.0 454,851.4 458,857.7 461,864.7 464,877.2 467,893.3 471,908.6 474,915.9 477,921.6 480,920.7 484,917.5 487,914.8 490,915.6 493,910.5 497,912.2 500,913.9 503,914.5 506,915.6 510,919.9 513,921.7 516,918.4 519,921.6 523,921.1 526,922.5 529,920.5 533,925.0 536,923.7 539,920.6 542,916.2 546,913.5 549,909.5 552,905.4 555,903.8 559,902.1 562,899.4 565,898.9 568,902.8 572,902.3 575,904.9 578,912.7 581,913.1 585,913.8 588,916.7 591,921.4 594,919.8 598,921.3 601,919.8 604,920.1 607,915.8 611,914.0 614,910.0 617,902.0 620,891.4 624,887.9 627,878.7 630,867.5 633,862.8 637,865.0 640,866.9 643,879.6 646,893.7 650,902.9 653,904.6 656,901.2 660,888.6 663,876.4 666,873.8 669,875.7 673,880.0 676,883.7 679,886.8 682,880.6 686,865.9 689,859.6 692,858.8 695,863.2 699,870.2 702,883.6 705,889.8 708,893.3 712,894.3 715,890.9 718,882.6 721,882.2 725,884.3 728,881.2 731,882.4 734,882.8 738,876.6 741,868.7 744,872.6 747,871.4 751,876.8 754,884.4 757,898.2 760,910.0 764,917.4 767,917.8 770,919.0 773,920.9 777,919.4 780,919.6 783,919.9 786,920.4 790,918.8 793,916.9 796,916.8 800,914.7 803,906.7 806,893.4 809,877.0 813,872.5 816,876.5 819,882.0 822,890.8 826,902.6 829,906.3 832,907.5 835,909.4 839,910.7 842,905.6 845,901.7 848,896.0 852,887.8 855,874.0 858,877.9 861,873.7 865,872.6 868,876.2 871,881.8 874,888.5 878,903.7 881,915.3 884,914.5 887,912.0 891,906.2 894,904.2 897,902.1 900,906.5 904,908.4 907,911.5 910,899.1 913,890.7 917,877.0 920,864.4 923,855.9 927,859.4 930,865.8 933,870.8 936,871.1 940,874.0 943,892.5 946,908.3 949,912.5 953,918.5 956,921.3 959,920.7 962,919.5 966,921.4 969,922.6 972,923.1 975,923.1 979,919.9 982,913.3 985,900.5 988,885.9 992,873.0 995,865.5 998,867.4 1001,869.3 1005,870.2 1008,870.1 1011,872.9 1014,877.0 1018,887.2 1021,891.4 1024,889.6 1027,885.4 1031,885.4 1034,893.2 1037,902.0 1040,910.2 1044,919.7 1047,925.7 1050,925.8 1054,925.9 1057,927.5 1060,926.3 1063,919.3 1067,902.7 1070,889.4 1073,874.5 1076,858.6 1080,853.0 1083,853.4 1086,852.5 1089,853.3 1093,852.6 1096,851.5 1099,851.1 1102,854.5 1106,857.4 1109,857.2 1112,857.3 1115,857.5 1119,853.9 1122,850.6 1125,850.9 1128,859.8 1132,869.3 1135,876.8 1138,881.7 1141,888.1 1145,893.2 1148,898.0 1151,908.4 1154,916.7 1158,922.2 1161,922.5 1164,918.9 1167,908.8 1171,896.8 1174,883.8 1177,866.4 1180,858.8 1184,861.6 1187,865.0 1190,872.1 1194,883.7 1197,895.6 1200,904.5 1203,916.2 1207,923.2 1210,925.3 1213,925.2 1216,925.3 1220,926.5 1223,922.6 1226,910.5 1229,899.4 1233,891.3 1236,881.6 1239,872.8 1242,869.4 1246,866.6 1249,864.7 1252,863.3 1255,868.6 1259,879.8 1262,891.7 1265,900.7 1268,908.9 1272,908.1 1275,904.4 1278,902.8 1281,902.1 1285,896.4 1288,882.7 1291,866.9 1294,856.6 1298,853.4 1301,851.7 1304,855.2 1307,864.4 1311,876.8 1314,887.4 1317,901.5 1321,913.8 1324,919.0 1327,917.8 1330,911.1 1334,905.3 1337,902.7 1340,898.0 1343,888.6 1347,898.8 1350,904.5 1353,901.9 1356,908.6 1360,919.2 1363,912.6 1366,911.0 1369,909.3 1373,903.2 1376,898.0 1379,900.2 1382,900.3 1386,909.1 1389,915.5 1392,916.1 1395,909.3 1399,894.3 1402,883.2 1405,869.9 1408,858.4 1412,867.9 1415,875.4 1418,887.3 1421,897.0 1425,912.9 1428,918.6 1431,924.3 1434,923.9 1438,925.9 1441,924.5 1444,921.1 1448,916.3 1451,908.8 1454,898.0 1457,886.6 1461,878.4 1464,872.4 1467,873.6 1470,871.4 1474,869.7 1477,866.7 1480,862.5 1483,860.1 1487,856.9 1490,853.7 1493,849.8 1496,849.2 1500,848.1 1503,849.4 1506,855.2 1509,859.6 1513,864.5 1516,864.2 1519,869.4 1522,871.8 1526,880.1 1529,887.0 1532,894.7 1535,898.7 1539,901.7 1542,901.7 1545,901.6 1548,906.5 1552,912.1 1555,919.8 1558,922.4 1561,914.4 1565,905.0 1568,892.3 1571,882.3 1574,866.5 1578,871.4 1581,876.5 1584,888.6 1588,903.2 1591,917.6 1594,923.2 1597,921.2 1601,920.8 1604,921.0 1607,919.7 1610,913.1 1614,913.5 1617,914.3 1620,912.2 1623,911.1 1627,912.8 1630,917.5 1633,915.8 1636,915.5 1640,918.3 1643,924.0 1646,920.6 1649,915.7 1653,912.6 1656,898.8 1659,886.3 1662,875.1 1666,871.4 1669,864.4 1672,868.8 1675,876.2 1679,886.5 1682,891.4 1685,890.7 1688,879.4 1692,868.7 1695,864.4 1698,865.2 1701,863.9 1705,866.7 1708,872.3 1711,877.2 1715,883.8 1718,894.1 1721,893.1 1724,886.8 1728,881.7 1731,866.4 1734,855.3 1737,854.3 1741,854.3 1744,850.9 1747,852.9 1750,854.0 1754,851.9 1757,849.8 1760,853.0 1763,854.5 1767,858.9 1770,864.3 1773,866.0 1776,866.7 1780,868.4 1783,860.9"/>
<g shape-rendering="crispEdges">
<rect x="0" y="0" width="1853" height="1" fill="#000"/>
<rect x="0" y="0" width="1" height="948" fill="#000"/>
<rect x="1915" y="0" width="1" height="948" fill="#000"/>
<rect x="0" y="947" width="1916" height="1" fill="#000"/>
<rect x="0" y="839" width="1915" height="1" fill="#c0c0c0"/>
<rect x="0" y="932" width="1915" height="1" fill="#c0c0c0"/>
<rect x="1853" y="0" width="1" height="947" fill="#c0c0c0"/>
<rect x="1838" y="933" width="1" height="14" fill="#c0c0c0"/>
<rect x="103" y="933" width="1" height="15" fill="#c0c0c0"/>
<rect x="174" y="933" width="1" height="15" fill="#c0c0c0"/>
<rect x="243" y="933" width="1" height="15" fill="#c0c0c0"/>
<rect x="311" y="933" width="1" height="15" fill="#c0c0c0"/>
<rect x="376" y="933" width="1" height="15" fill="#c0c0c0"/>
<rect x="451" y="933" width="1" height="15" fill="#c0c0c0"/>
<rect x="513" y="933" width="1" height="15" fill="#c0c0c0"/>
<rect x="581" y="933" width="1" height="15" fill="#c0c0c0"/>
<rect x="650" y="933" width="1" height="15" fill="#c0c0c0"/>
<rect x="718" y="933" width="1" height="15" fill="#c0c0c0"/>
<rect x="790" y="933" width="1" height="15" fill="#c0c0c0"/>
<rect x="861" y="933" width="1" height="15" fill="#c0c0c0"/>
<rect x="930" y="933" width="1" height="15" fill="#c0c0c0"/>
<rect x="1001" y="933" width="1" height="15" fill="#c0c0c0"/>
<rect x="1070" y="933" width="1" height="15" fill="#c0c0c0"/>
<rect x="1138" y="933" width="1" height="15" fill="#c0c0c0"/>
<rect x="1203" y="933" width="1" height="15" fill="#c0c0c0"/>
<rect x="1278" y="933" width="1" height="15" fill="#c0c0c0"/>
<rect x="1337" y="933" width="1" height="15" fill="#c0c0c0"/>
<rect x="1408" y="933" width="1" height="15" fill="#c0c0c0"/>
<rect x="1480" y="933" width="1" height="15" fill="#c0c0c0"/>
<rect x="1548" y="933" width="1" height="15" fill="#c0c0c0"/>
<rect x="1623" y="933" width="1" height="15" fill="#c0c0c0"/>
<rect x="1692" y="933" width="1" height="15" fill="#c0c0c0"/>
<rect x="1763" y="933" width="1" height="15" fill="#c0c0c0"/>
<rect x="1854" y="33" width="3" height="1" fill="#c0c0c0"/>
<rect x="1854" y="74" width="3" height="1" fill="#c0c0c0"/>
<rect x="1854" y="114" width="3" height="1" fill="#c0c0c0"/>
<rect x="1854" y="154" width="3" height="1" fill="#c0c0c0"/>
<rect x="1854" y="194" width="3" height="1" fill="#c0c0c0"/>
<rect x="1854" y="234" width="3" height="1" fill="#c0c0c0"/>
<rect x="1854" y="274" width="3" height="1" fill="#c0c0c0"/>
<rect x="1854" y="314" width="3" height="1" fill="#c0c0c0"/>
<rect x="1854" y="354" width="3" height="1" fill="#c0c0c0"/>
<rect x="1854" y="394" width="3" height="1" fill="#c0c0c0"/>
<rect x="1854" y="434" width="3" height="1" fill="#c0c0c0"/>
<rect x="1854" y="474" width="3" height="1" fill="#c0c0c0"/>
<rect x="1854" y="514" width="3" height="1" fill="#c0c0c0"/>
<rect x="1854" y="554" width="3" height="1" fill="#c0c0c0"/>
<rect x="1854" y="594" width="3" height="1" fill="#c0c0c0"/>
<rect x="1854" y="634" width="3" height="1" fill="#c0c0c0"/>
<rect x="1854" y="674" width="3" height="1" fill="#c0c0c0"/>
<rect x="1854" y="714" width="3" height="1" fill="#c0c0c0"/>
<rect x="1854" y="754" width="3" height="1" fill="#c0c0c0"/>
<rect x="1854" y="794" width="3" height="1" fill="#c0c0c0"/>
<rect x="1854" y="885" width="3" height="1" fill="#c0c0c0"/>
<rect x="1854" y="906" width="3" height="1" fill="#c0c0c0"/>
<rect x="1854" y="928" width="3" height="1" fill="#c0c0c0"/>
<rect x="1906.5" y="17.5" width="8" height="8" fill="#fff" stroke="#c0c0c0"/>
<rect x="1908" y="21" width="5" height="1" fill="#a0a0a0"/>
<rect x="8" y="860" width="20" height="27" fill="#fff"/>
<rect x="28" y="885" width="1" height="1" fill="#fff"/>
<rect x="5.5" y="844.5" width="47" height="14" fill="#fff" stroke="#000"/>
<rect x="55.5" y="845.5" width="12" height="12" fill="#fff" stroke="#000"/>
<rect x="57" y="850" width="9" height="2" fill="#000"/>
<rect x="60" y="847" width="2" height="9" fill="#000"/>
<rect x="1780" y="1" width="7" height="1" fill="#22cc22"/><rect x="1781" y="2" width="5" height="1" fill="#22cc22"/><rect x="1782" y="3" width="3" height="1" fill="#22cc22"/><rect x="1783" y="4" width="1" height="1" fill="#22cc22"/>
</g>
<text x="1859" y="38">250.00</text>
<text x="1859" y="79">237.50</text>
<text x="1859" y="119">225.00</text>
<text x="1859" y="159">212.50</text>
<text x="1859" y="199">200.00</text>
<text x="1859" y="239">187.50</text>
<text x="1859" y="279">175.00</text>
<text x="1859" y="319">162.50</text>
<text x="1859" y="359">150.00</text>
<text x="1859" y="399">137.50</text>
<text x="1859" y="439">125.00</text>
<text x="1859" y="479">112.50</text>
<text x="1859" y="519">100.00</text>
<text x="1859" y="559">87.50</text>
<text x="1859" y="599">75.00</text>
<text x="1859" y="639">62.50</text>
<text x="1859" y="679">50.00</text>
<text x="1859" y="719">37.50</text>
<text x="1859" y="759">25.00</text>
<text x="1859" y="799">12.50</text>
<text x="1859" y="869">75.00</text>
<g shape-rendering="crispEdges">
<rect x="1854" y="663" width="61" height="14" fill="#0000ff"/>
<rect x="1854" y="670" width="3" height="1" fill="#fff"/>
<rect x="1854" y="847" width="61" height="14" fill="#000"/>
<rect x="1854" y="854" width="3" height="1" fill="#fff"/>
<rect x="1854" y="862" width="61" height="14" fill="#ff0000"/>
<rect x="1854" y="869" width="3" height="1" fill="#fff"/>
</g>
<text x="1856" y="14">(c)Tai-Pan</text>
<text x="1859" y="675" class="w">51.19</text>
<text x="1859" y="859" class="w">80.68</text>
<text x="1859" y="874" class="w">75.10</text>
<text x="1859" y="890">50.00</text>
<text x="1859" y="911">25.000</text>
<text x="1859" y="945">10.11.23</text>
<text x="1843" y="944">-</text>
<text x="821" y="859">80.000</text>
<text x="1191" y="884">50.000</text>
<text x="1561" y="910">20.000</text>
<text x="8" y="856" style="font-size:12px" textLength="42.5" lengthAdjust="spacingAndGlyphs">Sto(9/5)</text>
<text x="8" y="871">%K</text>
<text x="8" y="886" class="r">%D</text>
<text x="103" y="945" text-anchor="end">11</text>
<text x="105" y="945">21</text>
<text x="174" y="945" text-anchor="end">12</text>
<text x="176" y="945">21</text>
<text x="243" y="945" text-anchor="end">01</text>
<text x="245" y="945">22</text>
<text x="311" y="945" text-anchor="end">02</text>
<text x="313" y="945">22</text>
<text x="376" y="945" text-anchor="end">03</text>
<text x="378" y="945">22</text>
<text x="451" y="945" text-anchor="end">04</text>
<text x="453" y="945">22</text>
<text x="513" y="945" text-anchor="end">05</text>
<text x="515" y="945">22</text>
<text x="581" y="945" text-anchor="end">06</text>
<text x="583" y="945">22</text>
<text x="650" y="945" text-anchor="end">07</text>
<text x="652" y="945">22</text>
<text x="718" y="945" text-anchor="end">08</text>
<text x="720" y="945">22</text>
<text x="790" y="945" text-anchor="end">09</text>
<text x="792" y="945">22</text>
<text x="861" y="945" text-anchor="end">10</text>
<text x="863" y="945">22</text>
<text x="930" y="945" text-anchor="end">11</text>
<text x="932" y="945">22</text>
<text x="1001" y="945" text-anchor="end">12</text>
<text x="1003" y="945">22</text>
<text x="1070" y="945" text-anchor="end">01</text>
<text x="1072" y="945">23</text>
<text x="1138" y="945" text-anchor="end">02</text>
<text x="1140" y="945">23</text>
<text x="1203" y="945" text-anchor="end">03</text>
<text x="1205" y="945">23</text>
<text x="1278" y="945" text-anchor="end">04</text>
<text x="1280" y="945">23</text>
<text x="1337" y="945" text-anchor="end">05</text>
<text x="1339" y="945">23</text>
<text x="1408" y="945" text-anchor="end">06</text>
<text x="1410" y="945">23</text>
<text x="1480" y="945" text-anchor="end">07</text>
<text x="1482" y="945">23</text>
<text x="1548" y="945" text-anchor="end">08</text>
<text x="1550" y="945">23</text>
<text x="1623" y="945" text-anchor="end">09</text>
<text x="1625" y="945">23</text>
<text x="1692" y="945" text-anchor="end">10</text>
<text x="1694" y="945">23</text>
<text x="1763" y="945" text-anchor="end">11</text>
<text x="1765" y="945">23</text>
<text x="185" y="23" textLength="87" lengthAdjust="spacingAndGlyphs" style="font-weight:bold;font-size:13.6px;stroke-width:0">SOLANA USD</text>
<text class="s" x="467" y="23" textLength="1104" lengthAdjust="spacingAndGlyphs" style="font-size:13px;stroke-width:0.25px">Haftungsausschluss für Inhalte: Alle Trendkanäle bzw. andere Linien, oder Grafiken hier sind keine Empfehlungen, oder Beratung, sondern die zeigen lediglich meine eigene Einschätzung. Alle Chartdaten sind ohne Gewähr.&#160; www.wikifolio.com/de/de/p/cyberwaehrungen</text>
</svg></body></html>
